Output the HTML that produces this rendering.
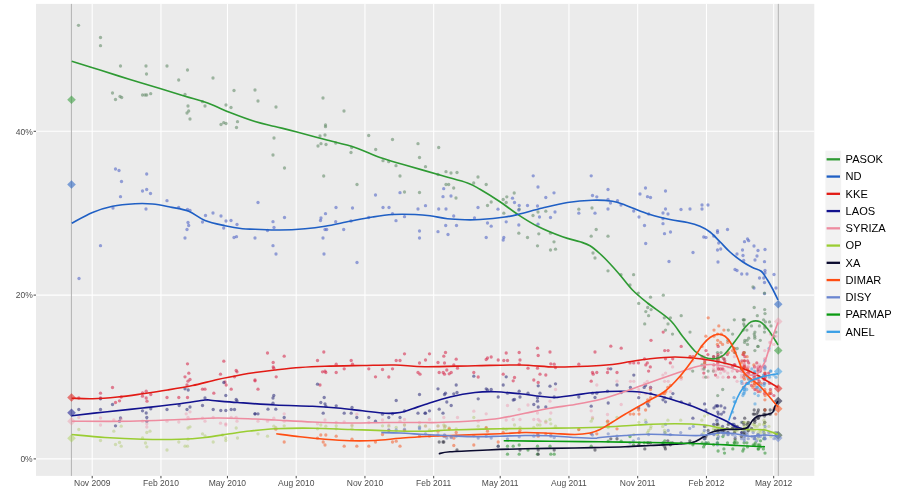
<!DOCTYPE html>
<html><head><meta charset="utf-8"><title>Opinion polling</title>
<style>
html,body{margin:0;padding:0;background:#fff;}
body{width:900px;height:500px;overflow:hidden;font-family:"Liberation Sans",sans-serif;}
svg{display:block;}
svg{will-change:transform;}
.ax{font-family:"Liberation Sans",sans-serif;font-size:8.5px;fill:#4d4d4d;}
.lg{font-family:"Liberation Sans",sans-serif;font-size:11.1px;fill:#000;}
</style></head><body>
<svg width="900" height="500" viewBox="0 0 900 500">
<rect x="0" y="0" width="900" height="500" fill="#ffffff"/>
<rect x="36.0" y="3.9" width="778.3" height="472.0" fill="#ebebeb"/>
<g stroke="#ffffff" stroke-width="1.07">
<line x1="36.0" x2="814.3" y1="458.90" y2="458.90"/>
<line x1="36.0" x2="814.3" y1="295.10" y2="295.10"/>
<line x1="36.0" x2="814.3" y1="131.30" y2="131.30"/>
<line y1="3.9" y2="475.9" x1="92.20" x2="92.20"/>
<line y1="3.9" y2="475.9" x1="160.95" x2="160.95"/>
<line y1="3.9" y2="475.9" x1="227.45" x2="227.45"/>
<line y1="3.9" y2="475.9" x1="296.20" x2="296.20"/>
<line y1="3.9" y2="475.9" x1="364.95" x2="364.95"/>
<line y1="3.9" y2="475.9" x1="433.70" x2="433.70"/>
<line y1="3.9" y2="475.9" x1="500.20" x2="500.20"/>
<line y1="3.9" y2="475.9" x1="568.95" x2="568.95"/>
<line y1="3.9" y2="475.9" x1="637.70" x2="637.70"/>
<line y1="3.9" y2="475.9" x1="706.45" x2="706.45"/>
<line y1="3.9" y2="475.9" x1="773.70" x2="773.70"/>
</g>
<g stroke="#b2b2b2" stroke-width="1">
<line x1="71.4" x2="71.4" y1="3.9" y2="475.9"/>
<line x1="778.3" x2="778.3" y1="3.9" y2="475.9"/>
</g>
<g stroke="#333333" stroke-width="0.9">
<line x1="33.6" x2="36.0" y1="458.90" y2="458.90"/>
<line x1="33.6" x2="36.0" y1="295.10" y2="295.10"/>
<line x1="33.6" x2="36.0" y1="131.30" y2="131.30"/>
<line y1="475.9" y2="478.3" x1="92.20" x2="92.20"/>
<line y1="475.9" y2="478.3" x1="160.95" x2="160.95"/>
<line y1="475.9" y2="478.3" x1="227.45" x2="227.45"/>
<line y1="475.9" y2="478.3" x1="296.20" x2="296.20"/>
<line y1="475.9" y2="478.3" x1="364.95" x2="364.95"/>
<line y1="475.9" y2="478.3" x1="433.70" x2="433.70"/>
<line y1="475.9" y2="478.3" x1="500.20" x2="500.20"/>
<line y1="475.9" y2="478.3" x1="568.95" x2="568.95"/>
<line y1="475.9" y2="478.3" x1="637.70" x2="637.70"/>
<line y1="475.9" y2="478.3" x1="706.45" x2="706.45"/>
<line y1="475.9" y2="478.3" x1="773.70" x2="773.70"/>
</g>
<text class="ax" x="32.7" y="462.0" text-anchor="end">0%</text>
<text class="ax" x="32.7" y="298.1" text-anchor="end">20%</text>
<text class="ax" x="32.7" y="135.0" text-anchor="end">40%</text>
<text class="ax" x="92.20" y="485.6" text-anchor="middle">Nov 2009</text>
<text class="ax" x="160.95" y="485.6" text-anchor="middle">Feb 2010</text>
<text class="ax" x="227.45" y="485.6" text-anchor="middle">May 2010</text>
<text class="ax" x="296.20" y="485.6" text-anchor="middle">Aug 2010</text>
<text class="ax" x="364.95" y="485.6" text-anchor="middle">Nov 2010</text>
<text class="ax" x="433.70" y="485.6" text-anchor="middle">Feb 2011</text>
<text class="ax" x="500.20" y="485.6" text-anchor="middle">May 2011</text>
<text class="ax" x="568.95" y="485.6" text-anchor="middle">Aug 2011</text>
<text class="ax" x="637.70" y="485.6" text-anchor="middle">Nov 2011</text>
<text class="ax" x="706.45" y="485.6" text-anchor="middle">Feb 2012</text>
<text class="ax" x="773.70" y="485.6" text-anchor="middle">May 2012</text>
<g fill-opacity="0.56">
<circle cx="78.5" cy="25.3" r="1.65" fill="#5f8763"/><circle cx="100.5" cy="37.5" r="1.65" fill="#5f8763"/><circle cx="100.5" cy="45.7" r="1.65" fill="#5f8763"/><circle cx="120.5" cy="66.0" r="1.65" fill="#5f8763"/><circle cx="146.0" cy="66.0" r="1.65" fill="#5f8763"/><circle cx="146.5" cy="74.0" r="1.65" fill="#5f8763"/><circle cx="167.0" cy="66.0" r="1.65" fill="#5f8763"/><circle cx="187.5" cy="70.0" r="1.65" fill="#5f8763"/><circle cx="178.7" cy="80.0" r="1.65" fill="#5f8763"/><circle cx="213.0" cy="78.0" r="1.65" fill="#5f8763"/><circle cx="234.0" cy="90.5" r="1.65" fill="#5f8763"/><circle cx="255.0" cy="90.0" r="1.65" fill="#5f8763"/><circle cx="112.5" cy="93.0" r="1.65" fill="#5f8763"/><circle cx="115.5" cy="99.5" r="1.65" fill="#5f8763"/><circle cx="120.0" cy="96.5" r="1.65" fill="#5f8763"/><circle cx="121.7" cy="97.5" r="1.65" fill="#5f8763"/><circle cx="142.5" cy="95.0" r="1.65" fill="#5f8763"/><circle cx="145.0" cy="95.0" r="1.65" fill="#5f8763"/><circle cx="146.7" cy="95.0" r="1.65" fill="#5f8763"/><circle cx="150.7" cy="93.7" r="1.65" fill="#5f8763"/><circle cx="185.0" cy="94.5" r="1.65" fill="#5f8763"/><circle cx="188.0" cy="106.0" r="1.65" fill="#5f8763"/><circle cx="187.0" cy="113.0" r="1.65" fill="#5f8763"/><circle cx="188.7" cy="111.0" r="1.65" fill="#5f8763"/><circle cx="190.0" cy="119.0" r="1.65" fill="#5f8763"/><circle cx="205.0" cy="106.0" r="1.65" fill="#5f8763"/><circle cx="202.5" cy="101.7" r="1.65" fill="#5f8763"/><circle cx="226.0" cy="105.0" r="1.65" fill="#5f8763"/><circle cx="231.0" cy="107.5" r="1.65" fill="#5f8763"/><circle cx="221.0" cy="124.5" r="1.65" fill="#5f8763"/><circle cx="223.7" cy="122.7" r="1.65" fill="#5f8763"/><circle cx="226.0" cy="123.5" r="1.65" fill="#5f8763"/><circle cx="237.5" cy="121.7" r="1.65" fill="#5f8763"/><circle cx="236.5" cy="127.5" r="1.65" fill="#5f8763"/><circle cx="258.0" cy="101.0" r="1.65" fill="#5f8763"/><circle cx="276.0" cy="107.0" r="1.65" fill="#5f8763"/><circle cx="323.0" cy="98.0" r="1.65" fill="#5f8763"/><circle cx="344.0" cy="111.0" r="1.65" fill="#5f8763"/><circle cx="325.5" cy="125.0" r="1.65" fill="#5f8763"/><circle cx="325.5" cy="126.7" r="1.65" fill="#5f8763"/><circle cx="274.0" cy="138.0" r="1.65" fill="#5f8763"/><circle cx="273.0" cy="155.0" r="1.65" fill="#5f8763"/><circle cx="284.5" cy="168.0" r="1.65" fill="#5f8763"/><circle cx="320.0" cy="136.0" r="1.65" fill="#5f8763"/><circle cx="325.0" cy="135.0" r="1.65" fill="#5f8763"/><circle cx="318.0" cy="146.0" r="1.65" fill="#5f8763"/><circle cx="321.0" cy="143.7" r="1.65" fill="#5f8763"/><circle cx="326.0" cy="144.5" r="1.65" fill="#5f8763"/><circle cx="335.7" cy="143.0" r="1.65" fill="#5f8763"/><circle cx="351.7" cy="147.5" r="1.65" fill="#5f8763"/><circle cx="351.0" cy="152.5" r="1.65" fill="#5f8763"/><circle cx="368.7" cy="135.5" r="1.65" fill="#5f8763"/><circle cx="375.7" cy="149.5" r="1.65" fill="#5f8763"/><circle cx="392.5" cy="139.5" r="1.65" fill="#5f8763"/><circle cx="383.0" cy="160.7" r="1.65" fill="#5f8763"/><circle cx="388.7" cy="161.7" r="1.65" fill="#5f8763"/><circle cx="396.0" cy="165.7" r="1.65" fill="#5f8763"/><circle cx="400.0" cy="176.0" r="1.65" fill="#5f8763"/><circle cx="323.7" cy="176.0" r="1.65" fill="#5f8763"/><circle cx="357.0" cy="184.5" r="1.65" fill="#5f8763"/><circle cx="418.0" cy="143.7" r="1.65" fill="#5f8763"/><circle cx="419.5" cy="157.5" r="1.65" fill="#5f8763"/><circle cx="425.5" cy="166.7" r="1.65" fill="#5f8763"/><circle cx="438.7" cy="147.5" r="1.65" fill="#5f8763"/><circle cx="438.0" cy="174.5" r="1.65" fill="#5f8763"/><circle cx="446.0" cy="171.7" r="1.65" fill="#5f8763"/><circle cx="451.0" cy="173.0" r="1.65" fill="#5f8763"/><circle cx="457.0" cy="172.5" r="1.65" fill="#5f8763"/><circle cx="446.0" cy="184.5" r="1.65" fill="#5f8763"/><circle cx="448.7" cy="184.5" r="1.65" fill="#5f8763"/><circle cx="453.7" cy="188.0" r="1.65" fill="#5f8763"/><circle cx="478.0" cy="177.0" r="1.65" fill="#5f8763"/><circle cx="473.7" cy="183.0" r="1.65" fill="#5f8763"/><circle cx="404.5" cy="192.0" r="1.65" fill="#5f8763"/><circle cx="419.5" cy="192.5" r="1.65" fill="#5f8763"/><circle cx="456.0" cy="198.0" r="1.65" fill="#5f8763"/><circle cx="486.2" cy="184.5" r="1.65" fill="#5f8763"/><circle cx="491.2" cy="202.0" r="1.65" fill="#5f8763"/><circle cx="487.5" cy="205.5" r="1.65" fill="#5f8763"/><circle cx="503.2" cy="199.5" r="1.65" fill="#5f8763"/><circle cx="506.8" cy="196.8" r="1.65" fill="#5f8763"/><circle cx="514.2" cy="193.0" r="1.65" fill="#5f8763"/><circle cx="506.2" cy="202.5" r="1.65" fill="#5f8763"/><circle cx="503.8" cy="213.2" r="1.65" fill="#5f8763"/><circle cx="519.2" cy="209.2" r="1.65" fill="#5f8763"/><circle cx="533.0" cy="215.5" r="1.65" fill="#5f8763"/><circle cx="538.0" cy="212.0" r="1.65" fill="#5f8763"/><circle cx="545.8" cy="211.2" r="1.65" fill="#5f8763"/><circle cx="518.8" cy="233.2" r="1.65" fill="#5f8763"/><circle cx="527.5" cy="237.5" r="1.65" fill="#5f8763"/><circle cx="538.8" cy="233.8" r="1.65" fill="#5f8763"/><circle cx="550.5" cy="233.2" r="1.65" fill="#5f8763"/><circle cx="554.0" cy="241.8" r="1.65" fill="#5f8763"/><circle cx="537.5" cy="245.8" r="1.65" fill="#5f8763"/><circle cx="550.5" cy="250.0" r="1.65" fill="#5f8763"/><circle cx="555.5" cy="249.2" r="1.65" fill="#5f8763"/><circle cx="578.8" cy="209.2" r="1.65" fill="#5f8763"/><circle cx="592.0" cy="208.0" r="1.65" fill="#5f8763"/><circle cx="596.2" cy="229.5" r="1.65" fill="#5f8763"/><circle cx="591.2" cy="236.2" r="1.65" fill="#5f8763"/><circle cx="608.0" cy="236.2" r="1.65" fill="#5f8763"/><circle cx="593.0" cy="253.0" r="1.65" fill="#5f8763"/><circle cx="595.0" cy="258.0" r="1.65" fill="#5f8763"/><circle cx="608.0" cy="270.8" r="1.65" fill="#5f8763"/><circle cx="115.5" cy="169.0" r="1.65" fill="#4a5ec4"/><circle cx="119.0" cy="170.5" r="1.65" fill="#4a5ec4"/><circle cx="121.5" cy="181.5" r="1.65" fill="#4a5ec4"/><circle cx="146.7" cy="174.0" r="1.65" fill="#4a5ec4"/><circle cx="142.5" cy="191.0" r="1.65" fill="#4a5ec4"/><circle cx="146.7" cy="189.5" r="1.65" fill="#4a5ec4"/><circle cx="150.5" cy="193.5" r="1.65" fill="#4a5ec4"/><circle cx="120.5" cy="196.7" r="1.65" fill="#4a5ec4"/><circle cx="167.0" cy="200.7" r="1.65" fill="#4a5ec4"/><circle cx="146.0" cy="209.0" r="1.65" fill="#4a5ec4"/><circle cx="113.0" cy="208.0" r="1.65" fill="#4a5ec4"/><circle cx="178.7" cy="207.5" r="1.65" fill="#4a5ec4"/><circle cx="187.5" cy="209.5" r="1.65" fill="#4a5ec4"/><circle cx="190.0" cy="210.5" r="1.65" fill="#4a5ec4"/><circle cx="188.0" cy="222.5" r="1.65" fill="#4a5ec4"/><circle cx="188.7" cy="225.5" r="1.65" fill="#4a5ec4"/><circle cx="187.0" cy="229.5" r="1.65" fill="#4a5ec4"/><circle cx="185.0" cy="238.0" r="1.65" fill="#4a5ec4"/><circle cx="205.5" cy="215.5" r="1.65" fill="#4a5ec4"/><circle cx="202.5" cy="222.0" r="1.65" fill="#4a5ec4"/><circle cx="213.0" cy="213.0" r="1.65" fill="#4a5ec4"/><circle cx="221.0" cy="216.0" r="1.65" fill="#4a5ec4"/><circle cx="226.0" cy="221.0" r="1.65" fill="#4a5ec4"/><circle cx="231.0" cy="220.5" r="1.65" fill="#4a5ec4"/><circle cx="237.0" cy="224.5" r="1.65" fill="#4a5ec4"/><circle cx="223.7" cy="228.0" r="1.65" fill="#4a5ec4"/><circle cx="234.0" cy="237.5" r="1.65" fill="#4a5ec4"/><circle cx="236.5" cy="236.7" r="1.65" fill="#4a5ec4"/><circle cx="255.0" cy="238.0" r="1.65" fill="#4a5ec4"/><circle cx="100.5" cy="245.7" r="1.65" fill="#4a5ec4"/><circle cx="79.0" cy="278.5" r="1.65" fill="#4a5ec4"/><circle cx="258.0" cy="202.5" r="1.65" fill="#4a5ec4"/><circle cx="284.5" cy="217.5" r="1.65" fill="#4a5ec4"/><circle cx="273.0" cy="221.7" r="1.65" fill="#4a5ec4"/><circle cx="274.0" cy="227.5" r="1.65" fill="#4a5ec4"/><circle cx="267.5" cy="230.5" r="1.65" fill="#4a5ec4"/><circle cx="273.0" cy="245.7" r="1.65" fill="#4a5ec4"/><circle cx="276.0" cy="254.0" r="1.65" fill="#4a5ec4"/><circle cx="325.5" cy="213.7" r="1.65" fill="#4a5ec4"/><circle cx="321.0" cy="218.0" r="1.65" fill="#4a5ec4"/><circle cx="320.5" cy="220.5" r="1.65" fill="#4a5ec4"/><circle cx="336.0" cy="207.5" r="1.65" fill="#4a5ec4"/><circle cx="335.7" cy="221.7" r="1.65" fill="#4a5ec4"/><circle cx="325.0" cy="229.5" r="1.65" fill="#4a5ec4"/><circle cx="326.7" cy="229.5" r="1.65" fill="#4a5ec4"/><circle cx="323.0" cy="238.0" r="1.65" fill="#4a5ec4"/><circle cx="343.7" cy="229.5" r="1.65" fill="#4a5ec4"/><circle cx="324.0" cy="254.0" r="1.65" fill="#4a5ec4"/><circle cx="352.5" cy="208.0" r="1.65" fill="#4a5ec4"/><circle cx="351.0" cy="221.0" r="1.65" fill="#4a5ec4"/><circle cx="357.0" cy="262.5" r="1.65" fill="#4a5ec4"/><circle cx="368.7" cy="217.5" r="1.65" fill="#4a5ec4"/><circle cx="375.5" cy="195.0" r="1.65" fill="#4a5ec4"/><circle cx="383.0" cy="207.5" r="1.65" fill="#4a5ec4"/><circle cx="389.0" cy="207.5" r="1.65" fill="#4a5ec4"/><circle cx="392.5" cy="213.7" r="1.65" fill="#4a5ec4"/><circle cx="396.0" cy="220.7" r="1.65" fill="#4a5ec4"/><circle cx="404.5" cy="216.7" r="1.65" fill="#4a5ec4"/><circle cx="400.0" cy="192.7" r="1.65" fill="#4a5ec4"/><circle cx="418.0" cy="209.0" r="1.65" fill="#4a5ec4"/><circle cx="425.5" cy="205.7" r="1.65" fill="#4a5ec4"/><circle cx="419.5" cy="231.0" r="1.65" fill="#4a5ec4"/><circle cx="419.5" cy="238.0" r="1.65" fill="#4a5ec4"/><circle cx="438.7" cy="209.0" r="1.65" fill="#4a5ec4"/><circle cx="446.0" cy="209.0" r="1.65" fill="#4a5ec4"/><circle cx="438.0" cy="231.7" r="1.65" fill="#4a5ec4"/><circle cx="445.7" cy="225.5" r="1.65" fill="#4a5ec4"/><circle cx="448.0" cy="234.5" r="1.65" fill="#4a5ec4"/><circle cx="453.7" cy="216.0" r="1.65" fill="#4a5ec4"/><circle cx="456.5" cy="225.5" r="1.65" fill="#4a5ec4"/><circle cx="478.0" cy="207.5" r="1.65" fill="#4a5ec4"/><circle cx="474.5" cy="218.0" r="1.65" fill="#4a5ec4"/><circle cx="443.7" cy="188.7" r="1.65" fill="#4a5ec4"/><circle cx="443.0" cy="196.7" r="1.65" fill="#4a5ec4"/><circle cx="451.0" cy="196.0" r="1.65" fill="#4a5ec4"/><circle cx="608.0" cy="189.5" r="1.65" fill="#4a5ec4"/><circle cx="608.0" cy="199.5" r="1.65" fill="#4a5ec4"/><circle cx="608.0" cy="209.0" r="1.65" fill="#4a5ec4"/><circle cx="610.5" cy="203.0" r="1.65" fill="#4a5ec4"/><circle cx="617.5" cy="200.7" r="1.65" fill="#4a5ec4"/><circle cx="621.0" cy="205.0" r="1.65" fill="#4a5ec4"/><circle cx="645.5" cy="188.0" r="1.65" fill="#4a5ec4"/><circle cx="640.0" cy="194.0" r="1.65" fill="#4a5ec4"/><circle cx="647.5" cy="196.7" r="1.65" fill="#4a5ec4"/><circle cx="650.5" cy="197.5" r="1.65" fill="#4a5ec4"/><circle cx="665.5" cy="191.0" r="1.65" fill="#4a5ec4"/><circle cx="633.7" cy="211.0" r="1.65" fill="#4a5ec4"/><circle cx="639.0" cy="217.0" r="1.65" fill="#4a5ec4"/><circle cx="648.7" cy="214.0" r="1.65" fill="#4a5ec4"/><circle cx="644.5" cy="225.5" r="1.65" fill="#4a5ec4"/><circle cx="645.7" cy="243.5" r="1.65" fill="#4a5ec4"/><circle cx="665.5" cy="209.0" r="1.65" fill="#4a5ec4"/><circle cx="663.0" cy="213.0" r="1.65" fill="#4a5ec4"/><circle cx="668.0" cy="214.0" r="1.65" fill="#4a5ec4"/><circle cx="663.0" cy="218.7" r="1.65" fill="#4a5ec4"/><circle cx="663.0" cy="223.7" r="1.65" fill="#4a5ec4"/><circle cx="664.5" cy="233.7" r="1.65" fill="#4a5ec4"/><circle cx="670.5" cy="232.0" r="1.65" fill="#4a5ec4"/><circle cx="669.0" cy="261.5" r="1.65" fill="#4a5ec4"/><circle cx="681.0" cy="209.5" r="1.65" fill="#4a5ec4"/><circle cx="690.0" cy="209.0" r="1.65" fill="#4a5ec4"/><circle cx="702.0" cy="205.0" r="1.65" fill="#4a5ec4"/><circle cx="708.0" cy="205.0" r="1.65" fill="#4a5ec4"/><circle cx="702.0" cy="209.0" r="1.65" fill="#4a5ec4"/><circle cx="693.0" cy="252.5" r="1.65" fill="#4a5ec4"/><circle cx="703.7" cy="237.0" r="1.65" fill="#4a5ec4"/><circle cx="706.0" cy="237.5" r="1.65" fill="#4a5ec4"/><circle cx="713.7" cy="236.0" r="1.65" fill="#4a5ec4"/><circle cx="717.5" cy="232.5" r="1.65" fill="#4a5ec4"/><circle cx="717.5" cy="230.7" r="1.65" fill="#4a5ec4"/><circle cx="727.5" cy="229.5" r="1.65" fill="#4a5ec4"/><circle cx="718.7" cy="243.0" r="1.65" fill="#4a5ec4"/><circle cx="717.5" cy="250.0" r="1.65" fill="#4a5ec4"/><circle cx="720.7" cy="249.0" r="1.65" fill="#4a5ec4"/><circle cx="718.0" cy="262.0" r="1.65" fill="#4a5ec4"/><circle cx="744.5" cy="241.7" r="1.65" fill="#4a5ec4"/><circle cx="747.5" cy="239.0" r="1.65" fill="#4a5ec4"/><circle cx="748.7" cy="240.7" r="1.65" fill="#4a5ec4"/><circle cx="754.0" cy="246.0" r="1.65" fill="#4a5ec4"/><circle cx="742.5" cy="250.0" r="1.65" fill="#4a5ec4"/><circle cx="737.0" cy="254.0" r="1.65" fill="#4a5ec4"/><circle cx="743.0" cy="255.5" r="1.65" fill="#4a5ec4"/><circle cx="743.7" cy="260.5" r="1.65" fill="#4a5ec4"/><circle cx="758.0" cy="250.5" r="1.65" fill="#4a5ec4"/><circle cx="765.0" cy="249.5" r="1.65" fill="#4a5ec4"/><circle cx="757.0" cy="256.0" r="1.65" fill="#4a5ec4"/><circle cx="755.0" cy="260.0" r="1.65" fill="#4a5ec4"/><circle cx="764.5" cy="261.7" r="1.65" fill="#4a5ec4"/><circle cx="735.0" cy="269.5" r="1.65" fill="#4a5ec4"/><circle cx="737.0" cy="270.5" r="1.65" fill="#4a5ec4"/><circle cx="741.7" cy="274.0" r="1.65" fill="#4a5ec4"/><circle cx="747.0" cy="274.0" r="1.65" fill="#4a5ec4"/><circle cx="765.0" cy="270.5" r="1.65" fill="#4a5ec4"/><circle cx="765.0" cy="273.0" r="1.65" fill="#4a5ec4"/><circle cx="763.7" cy="278.0" r="1.65" fill="#4a5ec4"/><circle cx="759.5" cy="278.0" r="1.65" fill="#4a5ec4"/><circle cx="764.5" cy="282.5" r="1.65" fill="#4a5ec4"/><circle cx="774.0" cy="274.5" r="1.65" fill="#4a5ec4"/><circle cx="754.0" cy="288.0" r="1.65" fill="#4a5ec4"/><circle cx="776.0" cy="288.0" r="1.65" fill="#4a5ec4"/><circle cx="764.5" cy="293.7" r="1.65" fill="#4a5ec4"/><circle cx="533.2" cy="175.8" r="1.65" fill="#4a5ec4"/><circle cx="538.0" cy="187.0" r="1.65" fill="#4a5ec4"/><circle cx="554.0" cy="192.8" r="1.65" fill="#4a5ec4"/><circle cx="545.8" cy="197.5" r="1.65" fill="#4a5ec4"/><circle cx="512.5" cy="198.2" r="1.65" fill="#4a5ec4"/><circle cx="514.5" cy="202.5" r="1.65" fill="#4a5ec4"/><circle cx="519.2" cy="205.5" r="1.65" fill="#4a5ec4"/><circle cx="527.5" cy="205.5" r="1.65" fill="#4a5ec4"/><circle cx="537.5" cy="206.0" r="1.65" fill="#4a5ec4"/><circle cx="498.0" cy="209.2" r="1.65" fill="#4a5ec4"/><circle cx="518.8" cy="210.0" r="1.65" fill="#4a5ec4"/><circle cx="555.0" cy="212.0" r="1.65" fill="#4a5ec4"/><circle cx="539.5" cy="217.0" r="1.65" fill="#4a5ec4"/><circle cx="550.5" cy="217.5" r="1.65" fill="#4a5ec4"/><circle cx="506.2" cy="221.8" r="1.65" fill="#4a5ec4"/><circle cx="487.5" cy="223.0" r="1.65" fill="#4a5ec4"/><circle cx="491.2" cy="226.2" r="1.65" fill="#4a5ec4"/><circle cx="518.8" cy="225.0" r="1.65" fill="#4a5ec4"/><circle cx="538.0" cy="224.2" r="1.65" fill="#4a5ec4"/><circle cx="486.2" cy="237.5" r="1.65" fill="#4a5ec4"/><circle cx="503.8" cy="237.5" r="1.65" fill="#4a5ec4"/><circle cx="503.2" cy="240.0" r="1.65" fill="#4a5ec4"/><circle cx="591.2" cy="175.8" r="1.65" fill="#4a5ec4"/><circle cx="592.5" cy="195.5" r="1.65" fill="#4a5ec4"/><circle cx="596.8" cy="196.8" r="1.65" fill="#4a5ec4"/><circle cx="595.0" cy="213.2" r="1.65" fill="#4a5ec4"/><circle cx="578.8" cy="213.2" r="1.65" fill="#4a5ec4"/><circle cx="621.0" cy="274.7" r="1.65" fill="#5f8763"/><circle cx="630.0" cy="285.0" r="1.65" fill="#5f8763"/><circle cx="630.0" cy="362.9" r="1.65" fill="#d62448"/><circle cx="630.4" cy="387.4" r="1.65" fill="#2c2c7a"/><circle cx="630.4" cy="381.3" r="1.65" fill="#ee8ca4" fill-opacity="0.4"/><circle cx="630.2" cy="414.1" r="1.65" fill="#f4602e"/><circle cx="630.0" cy="442.8" r="1.65" fill="#6e84c4"/><circle cx="630.0" cy="436.6" r="1.65" fill="#2a9030"/><circle cx="633.6" cy="274.7" r="1.65" fill="#5f8763"/><circle cx="633.7" cy="362.9" r="1.65" fill="#d62448"/><circle cx="633.8" cy="375.1" r="1.65" fill="#2c2c7a"/><circle cx="633.8" cy="381.3" r="1.65" fill="#ee8ca4" fill-opacity="0.4"/><circle cx="633.9" cy="434.6" r="1.65" fill="#a4c45a" fill-opacity="0.4"/><circle cx="633.6" cy="414.1" r="1.65" fill="#f4602e"/><circle cx="633.4" cy="440.8" r="1.65" fill="#6e84c4"/><circle cx="633.5" cy="444.8" r="1.65" fill="#2a9030"/><circle cx="638.3" cy="293.1" r="1.65" fill="#5f8763"/><circle cx="638.4" cy="362.9" r="1.65" fill="#d62448"/><circle cx="638.7" cy="407.9" r="1.65" fill="#2c2c7a"/><circle cx="638.5" cy="389.5" r="1.65" fill="#ee8ca4" fill-opacity="0.4"/><circle cx="638.8" cy="422.3" r="1.65" fill="#a4c45a" fill-opacity="0.4"/><circle cx="638.6" cy="410.0" r="1.65" fill="#f4602e"/><circle cx="638.5" cy="438.7" r="1.65" fill="#6e84c4"/><circle cx="638.7" cy="303.4" r="1.65" fill="#5f8763"/><circle cx="638.7" cy="397.7" r="1.65" fill="#2c2c7a"/><circle cx="639.3" cy="393.6" r="1.65" fill="#ee8ca4" fill-opacity="0.4"/><circle cx="638.8" cy="444.8" r="1.65" fill="#30303e"/><circle cx="639.0" cy="414.1" r="1.65" fill="#f4602e"/><circle cx="639.3" cy="442.8" r="1.65" fill="#2a9030"/><circle cx="644.7" cy="323.9" r="1.65" fill="#5f8763"/><circle cx="644.5" cy="358.8" r="1.65" fill="#d62448"/><circle cx="644.2" cy="387.4" r="1.65" fill="#2c2c7a"/><circle cx="644.6" cy="383.4" r="1.65" fill="#ee8ca4" fill-opacity="0.4"/><circle cx="644.8" cy="448.9" r="1.65" fill="#30303e"/><circle cx="644.3" cy="442.8" r="1.65" fill="#2a9030"/><circle cx="645.8" cy="311.6" r="1.65" fill="#5f8763"/><circle cx="645.8" cy="364.9" r="1.65" fill="#d62448"/><circle cx="645.5" cy="385.4" r="1.65" fill="#2c2c7a"/><circle cx="645.9" cy="393.6" r="1.65" fill="#ee8ca4" fill-opacity="0.4"/><circle cx="645.5" cy="420.2" r="1.65" fill="#a4c45a" fill-opacity="0.4"/><circle cx="645.6" cy="410.0" r="1.65" fill="#f4602e"/><circle cx="646.0" cy="422.3" r="1.65" fill="#6e84c4"/><circle cx="647.7" cy="307.5" r="1.65" fill="#5f8763"/><circle cx="647.3" cy="362.9" r="1.65" fill="#d62448"/><circle cx="647.4" cy="403.9" r="1.65" fill="#2c2c7a"/><circle cx="647.3" cy="381.3" r="1.65" fill="#ee8ca4" fill-opacity="0.4"/><circle cx="647.5" cy="432.6" r="1.65" fill="#a4c45a" fill-opacity="0.4"/><circle cx="647.7" cy="399.8" r="1.65" fill="#f4602e"/><circle cx="647.3" cy="442.8" r="1.65" fill="#2a9030"/><circle cx="648.6" cy="315.7" r="1.65" fill="#5f8763"/><circle cx="648.6" cy="371.1" r="1.65" fill="#d62448"/><circle cx="648.8" cy="405.9" r="1.65" fill="#2c2c7a"/><circle cx="648.7" cy="430.5" r="1.65" fill="#a4c45a" fill-opacity="0.4"/><circle cx="648.4" cy="442.8" r="1.65" fill="#30303e"/><circle cx="648.9" cy="401.8" r="1.65" fill="#f4602e"/><circle cx="648.7" cy="434.6" r="1.65" fill="#6e84c4"/><circle cx="650.5" cy="297.2" r="1.65" fill="#5f8763"/><circle cx="650.3" cy="366.9" r="1.65" fill="#d62448"/><circle cx="650.7" cy="393.6" r="1.65" fill="#2c2c7a"/><circle cx="650.5" cy="387.4" r="1.65" fill="#ee8ca4" fill-opacity="0.4"/><circle cx="650.6" cy="428.4" r="1.65" fill="#a4c45a" fill-opacity="0.4"/><circle cx="650.5" cy="442.8" r="1.65" fill="#30303e"/><circle cx="650.5" cy="389.5" r="1.65" fill="#f4602e"/><circle cx="651.1" cy="309.6" r="1.65" fill="#5f8763"/><circle cx="651.0" cy="340.3" r="1.65" fill="#d62448"/><circle cx="650.6" cy="387.4" r="1.65" fill="#2c2c7a"/><circle cx="650.6" cy="387.4" r="1.65" fill="#ee8ca4" fill-opacity="0.4"/><circle cx="651.0" cy="426.4" r="1.65" fill="#a4c45a" fill-opacity="0.4"/><circle cx="650.6" cy="397.7" r="1.65" fill="#f4602e"/><circle cx="663.3" cy="295.2" r="1.65" fill="#5f8763"/><circle cx="663.2" cy="332.1" r="1.65" fill="#d62448"/><circle cx="663.0" cy="399.8" r="1.65" fill="#2c2c7a"/><circle cx="662.9" cy="375.1" r="1.65" fill="#ee8ca4" fill-opacity="0.4"/><circle cx="662.7" cy="426.4" r="1.65" fill="#a4c45a" fill-opacity="0.4"/><circle cx="662.9" cy="444.8" r="1.65" fill="#30303e"/><circle cx="663.0" cy="393.6" r="1.65" fill="#f4602e"/><circle cx="663.3" cy="442.8" r="1.65" fill="#6e84c4"/><circle cx="662.9" cy="442.8" r="1.65" fill="#2a9030"/><circle cx="664.3" cy="317.8" r="1.65" fill="#5f8763"/><circle cx="664.7" cy="350.6" r="1.65" fill="#d62448"/><circle cx="664.8" cy="397.7" r="1.65" fill="#2c2c7a"/><circle cx="664.6" cy="381.3" r="1.65" fill="#ee8ca4" fill-opacity="0.4"/><circle cx="664.5" cy="430.5" r="1.65" fill="#a4c45a" fill-opacity="0.4"/><circle cx="664.8" cy="446.9" r="1.65" fill="#30303e"/><circle cx="664.7" cy="393.6" r="1.65" fill="#f4602e"/><circle cx="664.7" cy="432.6" r="1.65" fill="#6e84c4"/><circle cx="664.8" cy="440.8" r="1.65" fill="#2a9030"/><circle cx="665.5" cy="330.1" r="1.65" fill="#5f8763"/><circle cx="665.5" cy="358.8" r="1.65" fill="#d62448"/><circle cx="665.5" cy="401.8" r="1.65" fill="#2c2c7a"/><circle cx="665.6" cy="373.1" r="1.65" fill="#ee8ca4" fill-opacity="0.4"/><circle cx="665.5" cy="432.6" r="1.65" fill="#a4c45a" fill-opacity="0.4"/><circle cx="665.4" cy="448.9" r="1.65" fill="#30303e"/><circle cx="665.8" cy="391.6" r="1.65" fill="#f4602e"/><circle cx="665.5" cy="424.4" r="1.65" fill="#6e84c4"/><circle cx="668.0" cy="323.9" r="1.65" fill="#5f8763"/><circle cx="668.1" cy="350.6" r="1.65" fill="#d62448"/><circle cx="668.2" cy="381.3" r="1.65" fill="#ee8ca4" fill-opacity="0.4"/><circle cx="667.9" cy="420.2" r="1.65" fill="#a4c45a" fill-opacity="0.4"/><circle cx="667.8" cy="440.8" r="1.65" fill="#30303e"/><circle cx="667.8" cy="387.4" r="1.65" fill="#f4602e"/><circle cx="668.2" cy="430.5" r="1.65" fill="#6e84c4"/><circle cx="670.4" cy="317.8" r="1.65" fill="#5f8763"/><circle cx="670.3" cy="362.9" r="1.65" fill="#d62448"/><circle cx="670.8" cy="397.7" r="1.65" fill="#2c2c7a"/><circle cx="670.3" cy="391.6" r="1.65" fill="#ee8ca4" fill-opacity="0.4"/><circle cx="670.4" cy="444.8" r="1.65" fill="#30303e"/><circle cx="670.5" cy="385.4" r="1.65" fill="#f4602e"/><circle cx="670.4" cy="434.6" r="1.65" fill="#6e84c4"/><circle cx="670.4" cy="442.8" r="1.65" fill="#2a9030"/><circle cx="672.5" cy="334.1" r="1.65" fill="#5f8763"/><circle cx="672.7" cy="358.8" r="1.65" fill="#d62448"/><circle cx="672.9" cy="393.6" r="1.65" fill="#2c2c7a"/><circle cx="672.6" cy="366.9" r="1.65" fill="#ee8ca4" fill-opacity="0.4"/><circle cx="672.4" cy="442.8" r="1.65" fill="#30303e"/><circle cx="681.2" cy="315.7" r="1.65" fill="#5f8763"/><circle cx="681.2" cy="346.4" r="1.65" fill="#d62448"/><circle cx="681.2" cy="401.8" r="1.65" fill="#2c2c7a"/><circle cx="681.1" cy="379.2" r="1.65" fill="#ee8ca4" fill-opacity="0.4"/><circle cx="680.7" cy="420.2" r="1.65" fill="#a4c45a" fill-opacity="0.4"/><circle cx="681.2" cy="442.8" r="1.65" fill="#30303e"/><circle cx="681.1" cy="377.2" r="1.65" fill="#f4602e"/><circle cx="680.7" cy="432.6" r="1.65" fill="#6e84c4"/><circle cx="690.0" cy="332.1" r="1.65" fill="#5f8763"/><circle cx="690.1" cy="356.7" r="1.65" fill="#d62448"/><circle cx="689.7" cy="403.9" r="1.65" fill="#2c2c7a"/><circle cx="690.1" cy="369.0" r="1.65" fill="#ee8ca4" fill-opacity="0.4"/><circle cx="689.9" cy="440.8" r="1.65" fill="#30303e"/><circle cx="690.1" cy="356.7" r="1.65" fill="#f4602e"/><circle cx="689.7" cy="428.4" r="1.65" fill="#6e84c4"/><circle cx="689.9" cy="442.8" r="1.65" fill="#2a9030"/><circle cx="692.7" cy="371.1" r="1.65" fill="#5f8763"/><circle cx="693.1" cy="356.7" r="1.65" fill="#d62448"/><circle cx="692.9" cy="418.2" r="1.65" fill="#2c2c7a"/><circle cx="692.8" cy="360.8" r="1.65" fill="#ee8ca4" fill-opacity="0.4"/><circle cx="693.3" cy="442.8" r="1.65" fill="#30303e"/><circle cx="693.3" cy="426.4" r="1.65" fill="#6e84c4"/><circle cx="692.9" cy="444.8" r="1.65" fill="#2a9030"/><circle cx="702.0" cy="364.9" r="1.65" fill="#5f8763"/><circle cx="702.0" cy="356.7" r="1.65" fill="#d62448"/><circle cx="702.2" cy="369.0" r="1.65" fill="#ee8ca4" fill-opacity="0.4"/><circle cx="701.8" cy="420.2" r="1.65" fill="#a4c45a" fill-opacity="0.4"/><circle cx="702.0" cy="346.4" r="1.65" fill="#f4602e"/><circle cx="701.9" cy="434.6" r="1.65" fill="#6e84c4"/><circle cx="702.2" cy="442.8" r="1.65" fill="#2a9030"/><circle cx="703.9" cy="369.0" r="1.65" fill="#5f8763"/><circle cx="703.8" cy="373.1" r="1.65" fill="#d62448"/><circle cx="703.6" cy="377.2" r="1.65" fill="#ee8ca4" fill-opacity="0.4"/><circle cx="703.6" cy="432.6" r="1.65" fill="#a4c45a" fill-opacity="0.4"/><circle cx="703.6" cy="436.6" r="1.65" fill="#30303e"/><circle cx="703.6" cy="358.8" r="1.65" fill="#f4602e"/><circle cx="703.6" cy="446.9" r="1.65" fill="#2a9030"/><circle cx="704.8" cy="362.9" r="1.65" fill="#5f8763"/><circle cx="704.7" cy="366.9" r="1.65" fill="#d62448"/><circle cx="704.6" cy="426.4" r="1.65" fill="#2c2c7a"/><circle cx="704.3" cy="356.7" r="1.65" fill="#ee8ca4" fill-opacity="0.4"/><circle cx="704.6" cy="416.1" r="1.65" fill="#a4c45a" fill-opacity="0.4"/><circle cx="704.3" cy="438.7" r="1.65" fill="#30303e"/><circle cx="704.4" cy="430.5" r="1.65" fill="#6e84c4"/><circle cx="704.9" cy="360.8" r="1.65" fill="#d62448"/><circle cx="704.6" cy="403.9" r="1.65" fill="#2c2c7a"/><circle cx="704.6" cy="362.9" r="1.65" fill="#ee8ca4" fill-opacity="0.4"/><circle cx="705.1" cy="438.7" r="1.65" fill="#30303e"/><circle cx="704.6" cy="362.9" r="1.65" fill="#f4602e"/><circle cx="704.5" cy="438.7" r="1.65" fill="#6e84c4"/><circle cx="704.6" cy="444.8" r="1.65" fill="#2a9030"/><circle cx="705.9" cy="377.2" r="1.65" fill="#5f8763"/><circle cx="706.0" cy="350.6" r="1.65" fill="#d62448"/><circle cx="705.9" cy="410.0" r="1.65" fill="#2c2c7a"/><circle cx="706.0" cy="426.4" r="1.65" fill="#a4c45a" fill-opacity="0.4"/><circle cx="705.9" cy="436.6" r="1.65" fill="#30303e"/><circle cx="705.9" cy="336.2" r="1.65" fill="#f4602e"/><circle cx="706.2" cy="442.8" r="1.65" fill="#6e84c4"/><circle cx="705.7" cy="442.8" r="1.65" fill="#2a9030"/><circle cx="708.1" cy="371.1" r="1.65" fill="#5f8763"/><circle cx="707.9" cy="354.6" r="1.65" fill="#d62448"/><circle cx="707.8" cy="377.2" r="1.65" fill="#ee8ca4" fill-opacity="0.4"/><circle cx="707.8" cy="414.1" r="1.65" fill="#a4c45a" fill-opacity="0.4"/><circle cx="708.1" cy="430.5" r="1.65" fill="#30303e"/><circle cx="708.2" cy="317.8" r="1.65" fill="#f4602e"/><circle cx="708.2" cy="432.6" r="1.65" fill="#6e84c4"/><circle cx="708.3" cy="442.8" r="1.65" fill="#2a9030"/><circle cx="713.6" cy="356.7" r="1.65" fill="#5f8763"/><circle cx="713.8" cy="364.9" r="1.65" fill="#d62448"/><circle cx="713.7" cy="424.4" r="1.65" fill="#2c2c7a"/><circle cx="713.5" cy="369.0" r="1.65" fill="#ee8ca4" fill-opacity="0.4"/><circle cx="713.7" cy="430.5" r="1.65" fill="#a4c45a" fill-opacity="0.4"/><circle cx="713.9" cy="336.2" r="1.65" fill="#f4602e"/><circle cx="714.0" cy="434.6" r="1.65" fill="#6e84c4"/><circle cx="713.4" cy="371.1" r="1.65" fill="#5f8763"/><circle cx="713.6" cy="356.7" r="1.65" fill="#d62448"/><circle cx="714.0" cy="407.9" r="1.65" fill="#2c2c7a"/><circle cx="713.7" cy="371.1" r="1.65" fill="#ee8ca4" fill-opacity="0.4"/><circle cx="713.6" cy="428.4" r="1.65" fill="#a4c45a" fill-opacity="0.4"/><circle cx="714.0" cy="330.1" r="1.65" fill="#f4602e"/><circle cx="713.9" cy="434.6" r="1.65" fill="#6e84c4"/><circle cx="713.6" cy="444.8" r="1.65" fill="#2a9030"/><circle cx="715.5" cy="375.1" r="1.65" fill="#d62448"/><circle cx="715.9" cy="405.9" r="1.65" fill="#2c2c7a"/><circle cx="715.6" cy="371.1" r="1.65" fill="#ee8ca4" fill-opacity="0.4"/><circle cx="715.4" cy="430.5" r="1.65" fill="#a4c45a" fill-opacity="0.4"/><circle cx="715.6" cy="430.5" r="1.65" fill="#30303e"/><circle cx="717.4" cy="358.8" r="1.65" fill="#d62448"/><circle cx="716.9" cy="420.2" r="1.65" fill="#2c2c7a"/><circle cx="717.0" cy="360.8" r="1.65" fill="#ee8ca4" fill-opacity="0.4"/><circle cx="716.8" cy="430.5" r="1.65" fill="#a4c45a" fill-opacity="0.4"/><circle cx="716.9" cy="424.4" r="1.65" fill="#30303e"/><circle cx="717.1" cy="442.8" r="1.65" fill="#6e84c4"/><circle cx="717.5" cy="352.6" r="1.65" fill="#5f8763"/><circle cx="717.8" cy="362.9" r="1.65" fill="#d62448"/><circle cx="717.2" cy="405.9" r="1.65" fill="#2c2c7a"/><circle cx="717.7" cy="377.2" r="1.65" fill="#ee8ca4" fill-opacity="0.4"/><circle cx="717.2" cy="428.4" r="1.65" fill="#a4c45a" fill-opacity="0.4"/><circle cx="717.6" cy="334.1" r="1.65" fill="#f4602e"/><circle cx="717.6" cy="442.8" r="1.65" fill="#2a9030"/><circle cx="717.7" cy="395.6" r="1.65" fill="#5f8763"/><circle cx="717.7" cy="360.8" r="1.65" fill="#d62448"/><circle cx="717.8" cy="366.9" r="1.65" fill="#ee8ca4" fill-opacity="0.4"/><circle cx="717.8" cy="428.4" r="1.65" fill="#a4c45a" fill-opacity="0.4"/><circle cx="717.4" cy="344.4" r="1.65" fill="#f4602e"/><circle cx="717.3" cy="422.3" r="1.65" fill="#6e84c4"/><circle cx="717.8" cy="358.8" r="1.65" fill="#5f8763"/><circle cx="717.5" cy="356.7" r="1.65" fill="#d62448"/><circle cx="717.8" cy="412.1" r="1.65" fill="#2c2c7a"/><circle cx="717.5" cy="369.0" r="1.65" fill="#ee8ca4" fill-opacity="0.4"/><circle cx="717.3" cy="434.6" r="1.65" fill="#a4c45a" fill-opacity="0.4"/><circle cx="717.8" cy="424.4" r="1.65" fill="#30303e"/><circle cx="717.4" cy="444.8" r="1.65" fill="#6e84c4"/><circle cx="717.6" cy="438.7" r="1.65" fill="#2a9030"/><circle cx="717.8" cy="358.8" r="1.65" fill="#5f8763"/><circle cx="718.0" cy="354.6" r="1.65" fill="#d62448"/><circle cx="717.6" cy="405.9" r="1.65" fill="#2c2c7a"/><circle cx="717.7" cy="362.9" r="1.65" fill="#ee8ca4" fill-opacity="0.4"/><circle cx="717.6" cy="434.6" r="1.65" fill="#a4c45a" fill-opacity="0.4"/><circle cx="718.1" cy="430.5" r="1.65" fill="#30303e"/><circle cx="717.7" cy="340.3" r="1.65" fill="#f4602e"/><circle cx="717.7" cy="438.7" r="1.65" fill="#6e84c4"/><circle cx="718.3" cy="356.7" r="1.65" fill="#5f8763"/><circle cx="718.2" cy="346.4" r="1.65" fill="#d62448"/><circle cx="717.9" cy="366.9" r="1.65" fill="#ee8ca4" fill-opacity="0.4"/><circle cx="718.1" cy="432.6" r="1.65" fill="#a4c45a" fill-opacity="0.4"/><circle cx="718.2" cy="358.8" r="1.65" fill="#f4602e"/><circle cx="718.3" cy="432.6" r="1.65" fill="#6e84c4"/><circle cx="718.1" cy="451.0" r="1.65" fill="#2a9030"/><circle cx="718.5" cy="360.8" r="1.65" fill="#5f8763"/><circle cx="718.6" cy="369.0" r="1.65" fill="#d62448"/><circle cx="718.4" cy="414.1" r="1.65" fill="#2c2c7a"/><circle cx="718.8" cy="360.8" r="1.65" fill="#ee8ca4" fill-opacity="0.4"/><circle cx="718.9" cy="426.4" r="1.65" fill="#a4c45a" fill-opacity="0.4"/><circle cx="718.4" cy="432.6" r="1.65" fill="#30303e"/><circle cx="718.8" cy="325.9" r="1.65" fill="#f4602e"/><circle cx="718.5" cy="436.6" r="1.65" fill="#6e84c4"/><circle cx="721.0" cy="352.6" r="1.65" fill="#5f8763"/><circle cx="720.7" cy="369.0" r="1.65" fill="#d62448"/><circle cx="721.0" cy="405.9" r="1.65" fill="#2c2c7a"/><circle cx="720.5" cy="373.1" r="1.65" fill="#ee8ca4" fill-opacity="0.4"/><circle cx="720.9" cy="428.4" r="1.65" fill="#a4c45a" fill-opacity="0.4"/><circle cx="720.9" cy="430.5" r="1.65" fill="#30303e"/><circle cx="720.5" cy="342.4" r="1.65" fill="#f4602e"/><circle cx="720.7" cy="430.5" r="1.65" fill="#6e84c4"/><circle cx="721.6" cy="356.7" r="1.65" fill="#d62448"/><circle cx="721.4" cy="414.1" r="1.65" fill="#2c2c7a"/><circle cx="721.6" cy="369.0" r="1.65" fill="#ee8ca4" fill-opacity="0.4"/><circle cx="721.3" cy="334.1" r="1.65" fill="#f4602e"/><circle cx="722.7" cy="389.5" r="1.65" fill="#5f8763"/><circle cx="722.9" cy="369.0" r="1.65" fill="#d62448"/><circle cx="722.6" cy="426.4" r="1.65" fill="#2c2c7a"/><circle cx="723.0" cy="377.2" r="1.65" fill="#ee8ca4" fill-opacity="0.4"/><circle cx="722.8" cy="430.5" r="1.65" fill="#30303e"/><circle cx="722.6" cy="344.4" r="1.65" fill="#f4602e"/><circle cx="722.5" cy="432.6" r="1.65" fill="#6e84c4"/><circle cx="722.9" cy="436.6" r="1.65" fill="#2a9030"/><circle cx="723.9" cy="358.8" r="1.65" fill="#5f8763"/><circle cx="724.0" cy="358.8" r="1.65" fill="#d62448"/><circle cx="723.8" cy="412.1" r="1.65" fill="#2c2c7a"/><circle cx="723.8" cy="371.1" r="1.65" fill="#ee8ca4" fill-opacity="0.4"/><circle cx="723.9" cy="434.6" r="1.65" fill="#a4c45a" fill-opacity="0.4"/><circle cx="724.0" cy="430.5" r="1.65" fill="#30303e"/><circle cx="723.9" cy="330.1" r="1.65" fill="#f4602e"/><circle cx="723.7" cy="434.6" r="1.65" fill="#6e84c4"/><circle cx="723.9" cy="448.9" r="1.65" fill="#2a9030"/><circle cx="724.8" cy="362.9" r="1.65" fill="#5f8763"/><circle cx="724.8" cy="360.8" r="1.65" fill="#d62448"/><circle cx="724.8" cy="407.9" r="1.65" fill="#2c2c7a"/><circle cx="725.0" cy="371.1" r="1.65" fill="#ee8ca4" fill-opacity="0.4"/><circle cx="725.0" cy="432.6" r="1.65" fill="#6e84c4"/><circle cx="724.5" cy="453.1" r="1.65" fill="#2a9030"/><circle cx="727.8" cy="340.3" r="1.65" fill="#5f8763"/><circle cx="727.3" cy="354.6" r="1.65" fill="#d62448"/><circle cx="727.4" cy="432.6" r="1.65" fill="#2c2c7a"/><circle cx="727.8" cy="373.1" r="1.65" fill="#ee8ca4" fill-opacity="0.4"/><circle cx="727.4" cy="432.6" r="1.65" fill="#a4c45a" fill-opacity="0.4"/><circle cx="727.3" cy="428.4" r="1.65" fill="#30303e"/><circle cx="727.8" cy="342.4" r="1.65" fill="#f4602e"/><circle cx="727.7" cy="434.6" r="1.65" fill="#6e84c4"/><circle cx="727.5" cy="442.8" r="1.65" fill="#2a9030"/><circle cx="728.3" cy="330.1" r="1.65" fill="#5f8763"/><circle cx="728.5" cy="377.2" r="1.65" fill="#d62448"/><circle cx="728.2" cy="432.6" r="1.65" fill="#2c2c7a"/><circle cx="728.2" cy="366.9" r="1.65" fill="#ee8ca4" fill-opacity="0.4"/><circle cx="728.3" cy="424.4" r="1.65" fill="#30303e"/><circle cx="728.4" cy="352.6" r="1.65" fill="#f4602e"/><circle cx="728.4" cy="434.6" r="1.65" fill="#6e84c4"/><circle cx="732.6" cy="334.1" r="1.65" fill="#5f8763"/><circle cx="732.3" cy="366.9" r="1.65" fill="#d62448"/><circle cx="732.5" cy="424.4" r="1.65" fill="#2c2c7a"/><circle cx="732.3" cy="371.1" r="1.65" fill="#ee8ca4" fill-opacity="0.4"/><circle cx="732.2" cy="426.4" r="1.65" fill="#a4c45a" fill-opacity="0.4"/><circle cx="732.4" cy="428.4" r="1.65" fill="#30303e"/><circle cx="732.5" cy="350.6" r="1.65" fill="#f4602e"/><circle cx="732.5" cy="434.6" r="1.65" fill="#6e84c4"/><circle cx="732.8" cy="448.9" r="1.65" fill="#2a9030"/><circle cx="732.6" cy="412.1" r="1.65" fill="#4a9fe0"/><circle cx="734.3" cy="348.5" r="1.65" fill="#5f8763"/><circle cx="734.2" cy="364.9" r="1.65" fill="#d62448"/><circle cx="734.0" cy="426.4" r="1.65" fill="#2c2c7a"/><circle cx="734.2" cy="352.6" r="1.65" fill="#ee8ca4" fill-opacity="0.4"/><circle cx="734.3" cy="432.6" r="1.65" fill="#a4c45a" fill-opacity="0.4"/><circle cx="733.9" cy="424.4" r="1.65" fill="#30303e"/><circle cx="734.3" cy="348.5" r="1.65" fill="#f4602e"/><circle cx="733.9" cy="424.4" r="1.65" fill="#6e84c4"/><circle cx="734.2" cy="442.8" r="1.65" fill="#2a9030"/><circle cx="733.9" cy="397.7" r="1.65" fill="#4a9fe0"/><circle cx="734.3" cy="319.8" r="1.65" fill="#5f8763"/><circle cx="734.6" cy="377.2" r="1.65" fill="#d62448"/><circle cx="734.6" cy="418.2" r="1.65" fill="#2c2c7a"/><circle cx="734.4" cy="356.7" r="1.65" fill="#ee8ca4" fill-opacity="0.4"/><circle cx="734.2" cy="430.5" r="1.65" fill="#a4c45a" fill-opacity="0.4"/><circle cx="734.6" cy="432.6" r="1.65" fill="#30303e"/><circle cx="734.6" cy="352.6" r="1.65" fill="#f4602e"/><circle cx="734.6" cy="442.8" r="1.65" fill="#2a9030"/><circle cx="734.3" cy="401.8" r="1.65" fill="#4a9fe0"/><circle cx="735.2" cy="352.6" r="1.65" fill="#5f8763"/><circle cx="734.9" cy="364.9" r="1.65" fill="#d62448"/><circle cx="735.1" cy="426.4" r="1.65" fill="#2c2c7a"/><circle cx="735.2" cy="350.6" r="1.65" fill="#ee8ca4" fill-opacity="0.4"/><circle cx="735.1" cy="430.5" r="1.65" fill="#a4c45a" fill-opacity="0.4"/><circle cx="735.1" cy="438.7" r="1.65" fill="#30303e"/><circle cx="735.2" cy="436.6" r="1.65" fill="#6e84c4"/><circle cx="735.1" cy="440.8" r="1.65" fill="#2a9030"/><circle cx="735.1" cy="401.8" r="1.65" fill="#4a9fe0"/><circle cx="737.2" cy="348.5" r="1.65" fill="#5f8763"/><circle cx="737.3" cy="371.1" r="1.65" fill="#d62448"/><circle cx="736.8" cy="428.4" r="1.65" fill="#2c2c7a"/><circle cx="737.1" cy="381.3" r="1.65" fill="#ee8ca4" fill-opacity="0.4"/><circle cx="737.1" cy="430.5" r="1.65" fill="#a4c45a" fill-opacity="0.4"/><circle cx="737.2" cy="426.4" r="1.65" fill="#30303e"/><circle cx="737.2" cy="442.8" r="1.65" fill="#2a9030"/><circle cx="741.3" cy="369.0" r="1.65" fill="#d62448"/><circle cx="741.8" cy="432.6" r="1.65" fill="#2c2c7a"/><circle cx="741.5" cy="377.2" r="1.65" fill="#ee8ca4" fill-opacity="0.4"/><circle cx="741.4" cy="422.3" r="1.65" fill="#a4c45a" fill-opacity="0.4"/><circle cx="741.3" cy="362.9" r="1.65" fill="#f4602e"/><circle cx="741.5" cy="438.7" r="1.65" fill="#6e84c4"/><circle cx="741.6" cy="381.3" r="1.65" fill="#4a9fe0"/><circle cx="741.8" cy="369.0" r="1.65" fill="#5f8763"/><circle cx="741.9" cy="360.8" r="1.65" fill="#d62448"/><circle cx="741.8" cy="432.6" r="1.65" fill="#2c2c7a"/><circle cx="741.5" cy="375.1" r="1.65" fill="#ee8ca4" fill-opacity="0.4"/><circle cx="741.4" cy="436.6" r="1.65" fill="#30303e"/><circle cx="741.4" cy="369.0" r="1.65" fill="#f4602e"/><circle cx="741.7" cy="422.3" r="1.65" fill="#6e84c4"/><circle cx="741.9" cy="383.4" r="1.65" fill="#4a9fe0"/><circle cx="743.3" cy="330.1" r="1.65" fill="#5f8763"/><circle cx="743.0" cy="371.1" r="1.65" fill="#d62448"/><circle cx="743.1" cy="383.4" r="1.65" fill="#ee8ca4" fill-opacity="0.4"/><circle cx="743.2" cy="430.5" r="1.65" fill="#a4c45a" fill-opacity="0.4"/><circle cx="742.9" cy="422.3" r="1.65" fill="#30303e"/><circle cx="742.8" cy="354.6" r="1.65" fill="#f4602e"/><circle cx="742.8" cy="451.0" r="1.65" fill="#2a9030"/><circle cx="742.9" cy="395.6" r="1.65" fill="#4a9fe0"/><circle cx="743.3" cy="319.8" r="1.65" fill="#5f8763"/><circle cx="743.6" cy="354.6" r="1.65" fill="#d62448"/><circle cx="743.4" cy="369.0" r="1.65" fill="#ee8ca4" fill-opacity="0.4"/><circle cx="743.6" cy="434.6" r="1.65" fill="#a4c45a" fill-opacity="0.4"/><circle cx="743.4" cy="387.4" r="1.65" fill="#f4602e"/><circle cx="743.7" cy="448.9" r="1.65" fill="#2a9030"/><circle cx="743.3" cy="393.6" r="1.65" fill="#4a9fe0"/><circle cx="743.5" cy="319.8" r="1.65" fill="#5f8763"/><circle cx="743.6" cy="352.6" r="1.65" fill="#d62448"/><circle cx="743.6" cy="369.0" r="1.65" fill="#ee8ca4" fill-opacity="0.4"/><circle cx="744.0" cy="428.4" r="1.65" fill="#a4c45a" fill-opacity="0.4"/><circle cx="743.6" cy="377.2" r="1.65" fill="#f4602e"/><circle cx="743.7" cy="387.4" r="1.65" fill="#4a9fe0"/><circle cx="743.7" cy="323.9" r="1.65" fill="#5f8763"/><circle cx="743.6" cy="366.9" r="1.65" fill="#d62448"/><circle cx="743.9" cy="375.1" r="1.65" fill="#ee8ca4" fill-opacity="0.4"/><circle cx="743.9" cy="422.3" r="1.65" fill="#a4c45a" fill-opacity="0.4"/><circle cx="744.0" cy="424.4" r="1.65" fill="#30303e"/><circle cx="743.9" cy="432.6" r="1.65" fill="#6e84c4"/><circle cx="744.1" cy="389.5" r="1.65" fill="#4a9fe0"/><circle cx="744.3" cy="352.6" r="1.65" fill="#5f8763"/><circle cx="744.2" cy="364.9" r="1.65" fill="#d62448"/><circle cx="744.3" cy="362.9" r="1.65" fill="#ee8ca4" fill-opacity="0.4"/><circle cx="744.3" cy="422.3" r="1.65" fill="#a4c45a" fill-opacity="0.4"/><circle cx="744.1" cy="432.6" r="1.65" fill="#30303e"/><circle cx="744.1" cy="360.8" r="1.65" fill="#f4602e"/><circle cx="744.5" cy="436.6" r="1.65" fill="#6e84c4"/><circle cx="744.1" cy="442.8" r="1.65" fill="#2a9030"/><circle cx="744.5" cy="375.1" r="1.65" fill="#4a9fe0"/><circle cx="744.5" cy="319.8" r="1.65" fill="#5f8763"/><circle cx="744.4" cy="366.9" r="1.65" fill="#d62448"/><circle cx="744.5" cy="364.9" r="1.65" fill="#ee8ca4" fill-opacity="0.4"/><circle cx="744.4" cy="426.4" r="1.65" fill="#a4c45a" fill-opacity="0.4"/><circle cx="744.2" cy="352.6" r="1.65" fill="#f4602e"/><circle cx="744.3" cy="440.8" r="1.65" fill="#6e84c4"/><circle cx="744.1" cy="393.6" r="1.65" fill="#4a9fe0"/><circle cx="744.4" cy="325.9" r="1.65" fill="#5f8763"/><circle cx="744.6" cy="360.8" r="1.65" fill="#d62448"/><circle cx="744.4" cy="377.2" r="1.65" fill="#ee8ca4" fill-opacity="0.4"/><circle cx="744.5" cy="428.4" r="1.65" fill="#a4c45a" fill-opacity="0.4"/><circle cx="744.7" cy="418.2" r="1.65" fill="#30303e"/><circle cx="744.7" cy="375.1" r="1.65" fill="#f4602e"/><circle cx="744.5" cy="391.6" r="1.65" fill="#4a9fe0"/><circle cx="744.6" cy="342.4" r="1.65" fill="#5f8763"/><circle cx="744.7" cy="366.9" r="1.65" fill="#d62448"/><circle cx="744.3" cy="371.1" r="1.65" fill="#ee8ca4" fill-opacity="0.4"/><circle cx="744.7" cy="434.6" r="1.65" fill="#30303e"/><circle cx="744.5" cy="366.9" r="1.65" fill="#f4602e"/><circle cx="744.2" cy="438.7" r="1.65" fill="#6e84c4"/><circle cx="744.5" cy="387.4" r="1.65" fill="#4a9fe0"/><circle cx="744.8" cy="340.3" r="1.65" fill="#5f8763"/><circle cx="744.9" cy="356.7" r="1.65" fill="#d62448"/><circle cx="744.9" cy="387.4" r="1.65" fill="#ee8ca4" fill-opacity="0.4"/><circle cx="744.4" cy="379.2" r="1.65" fill="#f4602e"/><circle cx="744.9" cy="430.5" r="1.65" fill="#6e84c4"/><circle cx="744.5" cy="389.5" r="1.65" fill="#4a9fe0"/><circle cx="746.9" cy="330.1" r="1.65" fill="#5f8763"/><circle cx="746.8" cy="383.4" r="1.65" fill="#d62448"/><circle cx="747.1" cy="366.9" r="1.65" fill="#ee8ca4" fill-opacity="0.4"/><circle cx="747.2" cy="424.4" r="1.65" fill="#a4c45a" fill-opacity="0.4"/><circle cx="747.1" cy="356.7" r="1.65" fill="#f4602e"/><circle cx="747.2" cy="434.6" r="1.65" fill="#6e84c4"/><circle cx="746.9" cy="442.8" r="1.65" fill="#2a9030"/><circle cx="746.7" cy="389.5" r="1.65" fill="#4a9fe0"/><circle cx="747.1" cy="340.3" r="1.65" fill="#5f8763"/><circle cx="747.6" cy="360.8" r="1.65" fill="#d62448"/><circle cx="747.6" cy="373.1" r="1.65" fill="#ee8ca4" fill-opacity="0.4"/><circle cx="747.6" cy="422.3" r="1.65" fill="#a4c45a" fill-opacity="0.4"/><circle cx="747.3" cy="424.4" r="1.65" fill="#30303e"/><circle cx="747.1" cy="432.6" r="1.65" fill="#6e84c4"/><circle cx="747.6" cy="375.1" r="1.65" fill="#4a9fe0"/><circle cx="747.5" cy="344.4" r="1.65" fill="#5f8763"/><circle cx="747.2" cy="369.0" r="1.65" fill="#d62448"/><circle cx="747.7" cy="369.0" r="1.65" fill="#ee8ca4" fill-opacity="0.4"/><circle cx="747.5" cy="426.4" r="1.65" fill="#a4c45a" fill-opacity="0.4"/><circle cx="747.5" cy="428.4" r="1.65" fill="#30303e"/><circle cx="747.5" cy="369.0" r="1.65" fill="#f4602e"/><circle cx="747.5" cy="446.9" r="1.65" fill="#2a9030"/><circle cx="747.5" cy="377.2" r="1.65" fill="#4a9fe0"/><circle cx="747.9" cy="373.1" r="1.65" fill="#d62448"/><circle cx="748.0" cy="366.9" r="1.65" fill="#ee8ca4" fill-opacity="0.4"/><circle cx="748.1" cy="430.5" r="1.65" fill="#a4c45a" fill-opacity="0.4"/><circle cx="747.7" cy="373.1" r="1.65" fill="#f4602e"/><circle cx="748.2" cy="438.7" r="1.65" fill="#6e84c4"/><circle cx="748.2" cy="383.4" r="1.65" fill="#4a9fe0"/><circle cx="748.7" cy="362.9" r="1.65" fill="#d62448"/><circle cx="748.7" cy="366.9" r="1.65" fill="#ee8ca4" fill-opacity="0.4"/><circle cx="748.7" cy="426.4" r="1.65" fill="#a4c45a" fill-opacity="0.4"/><circle cx="748.4" cy="422.3" r="1.65" fill="#30303e"/><circle cx="748.7" cy="379.2" r="1.65" fill="#f4602e"/><circle cx="748.8" cy="426.4" r="1.65" fill="#6e84c4"/><circle cx="748.5" cy="383.4" r="1.65" fill="#4a9fe0"/><circle cx="748.7" cy="338.2" r="1.65" fill="#5f8763"/><circle cx="748.7" cy="373.1" r="1.65" fill="#d62448"/><circle cx="748.5" cy="373.1" r="1.65" fill="#ee8ca4" fill-opacity="0.4"/><circle cx="748.4" cy="430.5" r="1.65" fill="#30303e"/><circle cx="748.8" cy="371.1" r="1.65" fill="#f4602e"/><circle cx="748.8" cy="379.2" r="1.65" fill="#4a9fe0"/><circle cx="751.5" cy="325.9" r="1.65" fill="#5f8763"/><circle cx="751.5" cy="385.4" r="1.65" fill="#d62448"/><circle cx="751.9" cy="430.5" r="1.65" fill="#a4c45a" fill-opacity="0.4"/><circle cx="751.6" cy="428.4" r="1.65" fill="#30303e"/><circle cx="751.5" cy="381.3" r="1.65" fill="#f4602e"/><circle cx="751.9" cy="436.6" r="1.65" fill="#6e84c4"/><circle cx="751.8" cy="369.0" r="1.65" fill="#4a9fe0"/><circle cx="753.0" cy="287.0" r="1.65" fill="#5f8763"/><circle cx="752.8" cy="379.2" r="1.65" fill="#ee8ca4" fill-opacity="0.4"/><circle cx="752.9" cy="424.4" r="1.65" fill="#a4c45a" fill-opacity="0.4"/><circle cx="753.3" cy="414.1" r="1.65" fill="#30303e"/><circle cx="752.9" cy="387.4" r="1.65" fill="#f4602e"/><circle cx="753.2" cy="432.6" r="1.65" fill="#6e84c4"/><circle cx="753.3" cy="444.8" r="1.65" fill="#2a9030"/><circle cx="753.2" cy="375.1" r="1.65" fill="#4a9fe0"/><circle cx="754.2" cy="307.5" r="1.65" fill="#5f8763"/><circle cx="754.2" cy="377.2" r="1.65" fill="#d62448"/><circle cx="754.3" cy="373.1" r="1.65" fill="#ee8ca4" fill-opacity="0.4"/><circle cx="754.2" cy="430.5" r="1.65" fill="#a4c45a" fill-opacity="0.4"/><circle cx="754.2" cy="410.0" r="1.65" fill="#30303e"/><circle cx="753.9" cy="364.9" r="1.65" fill="#f4602e"/><circle cx="754.1" cy="438.7" r="1.65" fill="#6e84c4"/><circle cx="754.2" cy="375.1" r="1.65" fill="#4a9fe0"/><circle cx="754.2" cy="334.1" r="1.65" fill="#5f8763"/><circle cx="754.4" cy="373.1" r="1.65" fill="#d62448"/><circle cx="754.4" cy="389.5" r="1.65" fill="#ee8ca4" fill-opacity="0.4"/><circle cx="754.1" cy="420.2" r="1.65" fill="#30303e"/><circle cx="754.8" cy="338.2" r="1.65" fill="#5f8763"/><circle cx="754.8" cy="379.2" r="1.65" fill="#d62448"/><circle cx="754.6" cy="424.4" r="1.65" fill="#a4c45a" fill-opacity="0.4"/><circle cx="754.5" cy="414.1" r="1.65" fill="#30303e"/><circle cx="754.4" cy="385.4" r="1.65" fill="#f4602e"/><circle cx="754.6" cy="371.1" r="1.65" fill="#4a9fe0"/><circle cx="754.7" cy="336.2" r="1.65" fill="#5f8763"/><circle cx="754.5" cy="366.9" r="1.65" fill="#d62448"/><circle cx="754.7" cy="379.2" r="1.65" fill="#ee8ca4" fill-opacity="0.4"/><circle cx="754.7" cy="436.6" r="1.65" fill="#a4c45a" fill-opacity="0.4"/><circle cx="755.0" cy="420.2" r="1.65" fill="#30303e"/><circle cx="754.5" cy="383.4" r="1.65" fill="#f4602e"/><circle cx="754.8" cy="436.6" r="1.65" fill="#6e84c4"/><circle cx="754.7" cy="444.8" r="1.65" fill="#2a9030"/><circle cx="755.0" cy="403.9" r="1.65" fill="#4a9fe0"/><circle cx="754.9" cy="332.1" r="1.65" fill="#5f8763"/><circle cx="755.1" cy="375.1" r="1.65" fill="#d62448"/><circle cx="755.1" cy="366.9" r="1.65" fill="#ee8ca4" fill-opacity="0.4"/><circle cx="754.7" cy="422.3" r="1.65" fill="#30303e"/><circle cx="754.6" cy="383.4" r="1.65" fill="#f4602e"/><circle cx="755.1" cy="438.7" r="1.65" fill="#6e84c4"/><circle cx="754.9" cy="373.1" r="1.65" fill="#4a9fe0"/><circle cx="754.9" cy="350.6" r="1.65" fill="#5f8763"/><circle cx="755.1" cy="389.5" r="1.65" fill="#d62448"/><circle cx="754.8" cy="426.4" r="1.65" fill="#a4c45a" fill-opacity="0.4"/><circle cx="754.7" cy="438.7" r="1.65" fill="#6e84c4"/><circle cx="755.3" cy="442.8" r="1.65" fill="#2a9030"/><circle cx="754.8" cy="393.6" r="1.65" fill="#4a9fe0"/><circle cx="757.3" cy="315.7" r="1.65" fill="#5f8763"/><circle cx="756.8" cy="362.9" r="1.65" fill="#d62448"/><circle cx="756.9" cy="385.4" r="1.65" fill="#ee8ca4" fill-opacity="0.4"/><circle cx="757.2" cy="426.4" r="1.65" fill="#a4c45a" fill-opacity="0.4"/><circle cx="756.8" cy="414.1" r="1.65" fill="#30303e"/><circle cx="756.8" cy="389.5" r="1.65" fill="#f4602e"/><circle cx="756.7" cy="440.8" r="1.65" fill="#6e84c4"/><circle cx="756.7" cy="387.4" r="1.65" fill="#4a9fe0"/><circle cx="758.2" cy="391.6" r="1.65" fill="#d62448"/><circle cx="757.9" cy="366.9" r="1.65" fill="#ee8ca4" fill-opacity="0.4"/><circle cx="758.0" cy="438.7" r="1.65" fill="#a4c45a" fill-opacity="0.4"/><circle cx="757.8" cy="412.1" r="1.65" fill="#30303e"/><circle cx="757.8" cy="434.6" r="1.65" fill="#6e84c4"/><circle cx="758.1" cy="444.8" r="1.65" fill="#2a9030"/><circle cx="757.8" cy="387.4" r="1.65" fill="#4a9fe0"/><circle cx="757.9" cy="346.4" r="1.65" fill="#5f8763"/><circle cx="757.9" cy="379.2" r="1.65" fill="#d62448"/><circle cx="758.0" cy="366.9" r="1.65" fill="#ee8ca4" fill-opacity="0.4"/><circle cx="758.3" cy="418.2" r="1.65" fill="#30303e"/><circle cx="757.9" cy="383.4" r="1.65" fill="#f4602e"/><circle cx="757.9" cy="434.6" r="1.65" fill="#6e84c4"/><circle cx="758.4" cy="448.9" r="1.65" fill="#2a9030"/><circle cx="757.9" cy="371.1" r="1.65" fill="#d62448"/><circle cx="758.0" cy="389.5" r="1.65" fill="#ee8ca4" fill-opacity="0.4"/><circle cx="757.9" cy="418.2" r="1.65" fill="#30303e"/><circle cx="758.3" cy="377.2" r="1.65" fill="#f4602e"/><circle cx="758.4" cy="436.6" r="1.65" fill="#6e84c4"/><circle cx="758.2" cy="448.9" r="1.65" fill="#2a9030"/><circle cx="758.3" cy="383.4" r="1.65" fill="#4a9fe0"/><circle cx="758.0" cy="346.4" r="1.65" fill="#5f8763"/><circle cx="758.1" cy="369.0" r="1.65" fill="#d62448"/><circle cx="758.3" cy="366.9" r="1.65" fill="#ee8ca4" fill-opacity="0.4"/><circle cx="758.1" cy="432.6" r="1.65" fill="#a4c45a" fill-opacity="0.4"/><circle cx="758.4" cy="410.0" r="1.65" fill="#30303e"/><circle cx="758.5" cy="383.4" r="1.65" fill="#f4602e"/><circle cx="758.5" cy="434.6" r="1.65" fill="#6e84c4"/><circle cx="758.3" cy="395.6" r="1.65" fill="#4a9fe0"/><circle cx="759.4" cy="325.9" r="1.65" fill="#5f8763"/><circle cx="759.3" cy="381.3" r="1.65" fill="#d62448"/><circle cx="759.6" cy="364.9" r="1.65" fill="#ee8ca4" fill-opacity="0.4"/><circle cx="759.5" cy="424.4" r="1.65" fill="#a4c45a" fill-opacity="0.4"/><circle cx="759.6" cy="416.1" r="1.65" fill="#30303e"/><circle cx="759.7" cy="444.8" r="1.65" fill="#2a9030"/><circle cx="759.7" cy="371.1" r="1.65" fill="#4a9fe0"/><circle cx="760.4" cy="366.9" r="1.65" fill="#d62448"/><circle cx="760.7" cy="369.0" r="1.65" fill="#ee8ca4" fill-opacity="0.4"/><circle cx="760.2" cy="430.5" r="1.65" fill="#a4c45a" fill-opacity="0.4"/><circle cx="760.1" cy="391.6" r="1.65" fill="#f4602e"/><circle cx="760.4" cy="436.6" r="1.65" fill="#6e84c4"/><circle cx="760.4" cy="446.9" r="1.65" fill="#2a9030"/><circle cx="760.5" cy="389.5" r="1.65" fill="#4a9fe0"/><circle cx="760.3" cy="340.3" r="1.65" fill="#5f8763"/><circle cx="760.3" cy="371.1" r="1.65" fill="#d62448"/><circle cx="760.3" cy="369.0" r="1.65" fill="#ee8ca4" fill-opacity="0.4"/><circle cx="760.6" cy="432.6" r="1.65" fill="#a4c45a" fill-opacity="0.4"/><circle cx="760.7" cy="383.4" r="1.65" fill="#f4602e"/><circle cx="760.5" cy="440.8" r="1.65" fill="#2a9030"/><circle cx="760.8" cy="385.4" r="1.65" fill="#4a9fe0"/><circle cx="763.6" cy="319.8" r="1.65" fill="#5f8763"/><circle cx="764.0" cy="383.4" r="1.65" fill="#d62448"/><circle cx="763.9" cy="375.1" r="1.65" fill="#ee8ca4" fill-opacity="0.4"/><circle cx="763.7" cy="424.4" r="1.65" fill="#a4c45a" fill-opacity="0.4"/><circle cx="763.6" cy="430.5" r="1.65" fill="#6e84c4"/><circle cx="763.4" cy="448.9" r="1.65" fill="#2a9030"/><circle cx="763.5" cy="375.1" r="1.65" fill="#4a9fe0"/><circle cx="764.1" cy="379.2" r="1.65" fill="#d62448"/><circle cx="764.1" cy="369.0" r="1.65" fill="#ee8ca4" fill-opacity="0.4"/><circle cx="764.0" cy="420.2" r="1.65" fill="#a4c45a" fill-opacity="0.4"/><circle cx="763.9" cy="414.1" r="1.65" fill="#30303e"/><circle cx="763.7" cy="432.6" r="1.65" fill="#6e84c4"/><circle cx="763.8" cy="438.7" r="1.65" fill="#2a9030"/><circle cx="764.0" cy="385.4" r="1.65" fill="#4a9fe0"/><circle cx="764.5" cy="293.1" r="1.65" fill="#5f8763"/><circle cx="764.4" cy="366.9" r="1.65" fill="#d62448"/><circle cx="764.2" cy="364.9" r="1.65" fill="#ee8ca4" fill-opacity="0.4"/><circle cx="764.4" cy="432.6" r="1.65" fill="#a4c45a" fill-opacity="0.4"/><circle cx="764.5" cy="416.1" r="1.65" fill="#30303e"/><circle cx="764.5" cy="436.6" r="1.65" fill="#6e84c4"/><circle cx="764.5" cy="375.1" r="1.65" fill="#4a9fe0"/><circle cx="764.7" cy="309.6" r="1.65" fill="#5f8763"/><circle cx="764.7" cy="379.2" r="1.65" fill="#d62448"/><circle cx="764.8" cy="366.9" r="1.65" fill="#ee8ca4" fill-opacity="0.4"/><circle cx="764.5" cy="424.4" r="1.65" fill="#a4c45a" fill-opacity="0.4"/><circle cx="764.7" cy="422.3" r="1.65" fill="#30303e"/><circle cx="764.9" cy="399.8" r="1.65" fill="#f4602e"/><circle cx="764.4" cy="434.6" r="1.65" fill="#6e84c4"/><circle cx="764.7" cy="383.4" r="1.65" fill="#4a9fe0"/><circle cx="764.5" cy="332.1" r="1.65" fill="#5f8763"/><circle cx="764.5" cy="393.6" r="1.65" fill="#d62448"/><circle cx="764.6" cy="358.8" r="1.65" fill="#ee8ca4" fill-opacity="0.4"/><circle cx="764.9" cy="422.3" r="1.65" fill="#a4c45a" fill-opacity="0.4"/><circle cx="764.9" cy="410.0" r="1.65" fill="#30303e"/><circle cx="764.9" cy="391.6" r="1.65" fill="#f4602e"/><circle cx="765.0" cy="366.9" r="1.65" fill="#4a9fe0"/><circle cx="764.8" cy="328.0" r="1.65" fill="#5f8763"/><circle cx="764.7" cy="350.6" r="1.65" fill="#ee8ca4" fill-opacity="0.4"/><circle cx="764.7" cy="434.6" r="1.65" fill="#a4c45a" fill-opacity="0.4"/><circle cx="764.8" cy="410.0" r="1.65" fill="#30303e"/><circle cx="764.8" cy="389.5" r="1.65" fill="#f4602e"/><circle cx="764.7" cy="438.7" r="1.65" fill="#6e84c4"/><circle cx="764.6" cy="366.9" r="1.65" fill="#4a9fe0"/><circle cx="764.8" cy="325.9" r="1.65" fill="#5f8763"/><circle cx="765.2" cy="377.2" r="1.65" fill="#d62448"/><circle cx="765.2" cy="358.8" r="1.65" fill="#ee8ca4" fill-opacity="0.4"/><circle cx="764.7" cy="373.1" r="1.65" fill="#f4602e"/><circle cx="765.0" cy="438.7" r="1.65" fill="#6e84c4"/><circle cx="765.0" cy="453.1" r="1.65" fill="#2a9030"/><circle cx="765.0" cy="313.6" r="1.65" fill="#5f8763"/><circle cx="765.1" cy="373.1" r="1.65" fill="#d62448"/><circle cx="765.3" cy="366.9" r="1.65" fill="#ee8ca4" fill-opacity="0.4"/><circle cx="764.9" cy="428.4" r="1.65" fill="#a4c45a" fill-opacity="0.4"/><circle cx="765.0" cy="414.1" r="1.65" fill="#30303e"/><circle cx="765.0" cy="410.0" r="1.65" fill="#f4602e"/><circle cx="765.1" cy="426.4" r="1.65" fill="#6e84c4"/><circle cx="764.8" cy="360.8" r="1.65" fill="#4a9fe0"/><circle cx="765.4" cy="321.9" r="1.65" fill="#5f8763"/><circle cx="765.4" cy="375.1" r="1.65" fill="#d62448"/><circle cx="765.3" cy="360.8" r="1.65" fill="#ee8ca4" fill-opacity="0.4"/><circle cx="765.1" cy="395.6" r="1.65" fill="#f4602e"/><circle cx="764.9" cy="438.7" r="1.65" fill="#6e84c4"/><circle cx="765.0" cy="369.0" r="1.65" fill="#4a9fe0"/><circle cx="768.7" cy="373.1" r="1.65" fill="#d62448"/><circle cx="769.1" cy="350.6" r="1.65" fill="#ee8ca4" fill-opacity="0.4"/><circle cx="768.9" cy="426.4" r="1.65" fill="#a4c45a" fill-opacity="0.4"/><circle cx="769.0" cy="393.6" r="1.65" fill="#f4602e"/><circle cx="768.8" cy="432.6" r="1.65" fill="#6e84c4"/><circle cx="769.0" cy="348.5" r="1.65" fill="#4a9fe0"/><circle cx="769.5" cy="321.9" r="1.65" fill="#5f8763"/><circle cx="769.5" cy="383.4" r="1.65" fill="#d62448"/><circle cx="769.7" cy="342.4" r="1.65" fill="#ee8ca4" fill-opacity="0.4"/><circle cx="769.4" cy="414.1" r="1.65" fill="#30303e"/><circle cx="769.6" cy="393.6" r="1.65" fill="#f4602e"/><circle cx="769.5" cy="377.2" r="1.65" fill="#4a9fe0"/><circle cx="770.4" cy="389.5" r="1.65" fill="#d62448"/><circle cx="770.7" cy="342.4" r="1.65" fill="#ee8ca4" fill-opacity="0.4"/><circle cx="770.7" cy="432.6" r="1.65" fill="#a4c45a" fill-opacity="0.4"/><circle cx="770.2" cy="410.0" r="1.65" fill="#30303e"/><circle cx="770.7" cy="371.1" r="1.65" fill="#4a9fe0"/><circle cx="771.0" cy="325.9" r="1.65" fill="#5f8763"/><circle cx="771.0" cy="393.6" r="1.65" fill="#d62448"/><circle cx="770.5" cy="334.1" r="1.65" fill="#ee8ca4" fill-opacity="0.4"/><circle cx="770.9" cy="436.6" r="1.65" fill="#a4c45a" fill-opacity="0.4"/><circle cx="770.5" cy="414.1" r="1.65" fill="#30303e"/><circle cx="770.5" cy="391.6" r="1.65" fill="#f4602e"/><circle cx="770.7" cy="371.1" r="1.65" fill="#4a9fe0"/><circle cx="773.9" cy="336.2" r="1.65" fill="#5f8763"/><circle cx="773.9" cy="395.6" r="1.65" fill="#d62448"/><circle cx="773.8" cy="344.4" r="1.65" fill="#ee8ca4" fill-opacity="0.4"/><circle cx="774.1" cy="432.6" r="1.65" fill="#a4c45a" fill-opacity="0.4"/><circle cx="773.8" cy="410.0" r="1.65" fill="#30303e"/><circle cx="774.2" cy="407.9" r="1.65" fill="#f4602e"/><circle cx="774.0" cy="438.7" r="1.65" fill="#6e84c4"/><circle cx="773.9" cy="375.1" r="1.65" fill="#4a9fe0"/><circle cx="775.9" cy="332.1" r="1.65" fill="#5f8763"/><circle cx="775.8" cy="336.2" r="1.65" fill="#ee8ca4" fill-opacity="0.4"/><circle cx="775.8" cy="432.6" r="1.65" fill="#a4c45a" fill-opacity="0.4"/><circle cx="775.9" cy="414.1" r="1.65" fill="#f4602e"/><circle cx="776.1" cy="432.6" r="1.65" fill="#6e84c4"/><circle cx="776.0" cy="377.2" r="1.65" fill="#4a9fe0"/><circle cx="112.5" cy="387.5" r="1.65" fill="#d62448"/><circle cx="100.5" cy="393.2" r="1.65" fill="#d62448"/><circle cx="100.5" cy="398.0" r="1.65" fill="#d62448"/><circle cx="115.5" cy="402.5" r="1.65" fill="#d62448"/><circle cx="119.5" cy="400.8" r="1.65" fill="#d62448"/><circle cx="121.2" cy="397.0" r="1.65" fill="#d62448"/><circle cx="78.8" cy="398.0" r="1.65" fill="#d62448"/><circle cx="142.5" cy="393.0" r="1.65" fill="#d62448"/><circle cx="146.2" cy="391.2" r="1.65" fill="#d62448"/><circle cx="150.8" cy="394.5" r="1.65" fill="#d62448"/><circle cx="142.5" cy="396.2" r="1.65" fill="#d62448"/><circle cx="146.2" cy="398.0" r="1.65" fill="#d62448"/><circle cx="147.0" cy="401.2" r="1.65" fill="#d62448"/><circle cx="167.0" cy="397.5" r="1.65" fill="#d62448"/><circle cx="178.8" cy="397.5" r="1.65" fill="#d62448"/><circle cx="187.5" cy="397.5" r="1.65" fill="#d62448"/><circle cx="187.5" cy="363.8" r="1.65" fill="#d62448"/><circle cx="188.8" cy="373.2" r="1.65" fill="#d62448"/><circle cx="185.0" cy="376.8" r="1.65" fill="#d62448"/><circle cx="190.0" cy="379.5" r="1.65" fill="#d62448"/><circle cx="188.0" cy="381.2" r="1.65" fill="#d62448"/><circle cx="187.0" cy="385.0" r="1.65" fill="#d62448"/><circle cx="202.5" cy="389.2" r="1.65" fill="#d62448"/><circle cx="205.0" cy="389.2" r="1.65" fill="#d62448"/><circle cx="213.8" cy="393.2" r="1.65" fill="#d62448"/><circle cx="220.5" cy="374.2" r="1.65" fill="#d62448"/><circle cx="223.8" cy="361.2" r="1.65" fill="#d62448"/><circle cx="225.0" cy="382.0" r="1.65" fill="#d62448"/><circle cx="226.2" cy="385.0" r="1.65" fill="#d62448"/><circle cx="231.2" cy="389.2" r="1.65" fill="#d62448"/><circle cx="236.2" cy="370.5" r="1.65" fill="#d62448"/><circle cx="237.0" cy="371.8" r="1.65" fill="#d62448"/><circle cx="234.5" cy="376.8" r="1.65" fill="#d62448"/><circle cx="255.0" cy="380.0" r="1.65" fill="#d62448"/><circle cx="267.5" cy="353.0" r="1.65" fill="#d62448"/><circle cx="284.2" cy="356.2" r="1.65" fill="#d62448"/><circle cx="273.2" cy="362.5" r="1.65" fill="#d62448"/><circle cx="273.2" cy="367.0" r="1.65" fill="#d62448"/><circle cx="273.8" cy="368.2" r="1.65" fill="#d62448"/><circle cx="276.2" cy="376.8" r="1.65" fill="#d62448"/><circle cx="255.0" cy="380.8" r="1.65" fill="#d62448"/><circle cx="258.0" cy="389.2" r="1.65" fill="#d62448"/><circle cx="317.5" cy="360.5" r="1.65" fill="#d62448"/><circle cx="323.8" cy="352.0" r="1.65" fill="#d62448"/><circle cx="336.2" cy="364.2" r="1.65" fill="#d62448"/><circle cx="336.2" cy="372.5" r="1.65" fill="#d62448"/><circle cx="322.5" cy="371.8" r="1.65" fill="#d62448"/><circle cx="325.0" cy="371.2" r="1.65" fill="#d62448"/><circle cx="325.8" cy="372.5" r="1.65" fill="#d62448"/><circle cx="320.0" cy="385.0" r="1.65" fill="#d62448"/><circle cx="344.2" cy="368.8" r="1.65" fill="#d62448"/><circle cx="351.2" cy="360.5" r="1.65" fill="#d62448"/><circle cx="352.5" cy="364.2" r="1.65" fill="#d62448"/><circle cx="368.8" cy="368.8" r="1.65" fill="#d62448"/><circle cx="375.5" cy="376.8" r="1.65" fill="#d62448"/><circle cx="382.5" cy="369.5" r="1.65" fill="#d62448"/><circle cx="388.8" cy="377.0" r="1.65" fill="#d62448"/><circle cx="392.5" cy="368.8" r="1.65" fill="#d62448"/><circle cx="396.2" cy="360.5" r="1.65" fill="#d62448"/><circle cx="400.0" cy="360.5" r="1.65" fill="#d62448"/><circle cx="404.5" cy="353.8" r="1.65" fill="#d62448"/><circle cx="419.5" cy="363.0" r="1.65" fill="#d62448"/><circle cx="418.0" cy="372.5" r="1.65" fill="#d62448"/><circle cx="420.0" cy="374.2" r="1.65" fill="#d62448"/><circle cx="429.5" cy="353.8" r="1.65" fill="#d62448"/><circle cx="425.5" cy="360.0" r="1.65" fill="#d62448"/><circle cx="444.5" cy="363.0" r="1.65" fill="#d62448"/><circle cx="443.2" cy="372.5" r="1.65" fill="#d62448"/><circle cx="444.5" cy="374.2" r="1.65" fill="#d62448"/><circle cx="438.0" cy="362.5" r="1.65" fill="#d62448"/><circle cx="439.2" cy="372.5" r="1.65" fill="#d62448"/><circle cx="443.8" cy="356.2" r="1.65" fill="#d62448"/><circle cx="445.5" cy="352.5" r="1.65" fill="#d62448"/><circle cx="446.8" cy="370.0" r="1.65" fill="#d62448"/><circle cx="449.2" cy="373.8" r="1.65" fill="#d62448"/><circle cx="451.2" cy="372.5" r="1.65" fill="#d62448"/><circle cx="453.8" cy="365.0" r="1.65" fill="#d62448"/><circle cx="456.2" cy="359.2" r="1.65" fill="#d62448"/><circle cx="457.5" cy="368.2" r="1.65" fill="#d62448"/><circle cx="473.8" cy="372.5" r="1.65" fill="#d62448"/><circle cx="478.2" cy="377.0" r="1.65" fill="#d62448"/><circle cx="486.2" cy="359.5" r="1.65" fill="#d62448"/><circle cx="487.5" cy="358.0" r="1.65" fill="#d62448"/><circle cx="491.2" cy="357.0" r="1.65" fill="#d62448"/><circle cx="498.2" cy="360.0" r="1.65" fill="#d62448"/><circle cx="503.8" cy="360.5" r="1.65" fill="#d62448"/><circle cx="506.2" cy="353.0" r="1.65" fill="#d62448"/><circle cx="507.5" cy="360.5" r="1.65" fill="#d62448"/><circle cx="503.2" cy="374.2" r="1.65" fill="#d62448"/><circle cx="514.5" cy="377.5" r="1.65" fill="#d62448"/><circle cx="513.2" cy="380.8" r="1.65" fill="#d62448"/><circle cx="519.2" cy="352.5" r="1.65" fill="#d62448"/><circle cx="520.0" cy="360.0" r="1.65" fill="#d62448"/><circle cx="519.2" cy="364.2" r="1.65" fill="#d62448"/><circle cx="528.0" cy="368.2" r="1.65" fill="#d62448"/><circle cx="533.8" cy="380.0" r="1.65" fill="#d62448"/><circle cx="537.5" cy="348.2" r="1.65" fill="#d62448"/><circle cx="538.2" cy="355.5" r="1.65" fill="#d62448"/><circle cx="537.5" cy="368.2" r="1.65" fill="#d62448"/><circle cx="540.0" cy="374.2" r="1.65" fill="#d62448"/><circle cx="538.2" cy="382.5" r="1.65" fill="#d62448"/><circle cx="545.8" cy="375.0" r="1.65" fill="#d62448"/><circle cx="550.0" cy="352.0" r="1.65" fill="#d62448"/><circle cx="550.8" cy="363.8" r="1.65" fill="#d62448"/><circle cx="554.2" cy="364.2" r="1.65" fill="#d62448"/><circle cx="555.5" cy="367.5" r="1.65" fill="#d62448"/><circle cx="578.8" cy="364.2" r="1.65" fill="#d62448"/><circle cx="591.2" cy="381.2" r="1.65" fill="#d62448"/><circle cx="592.5" cy="372.5" r="1.65" fill="#d62448"/><circle cx="593.2" cy="374.2" r="1.65" fill="#d62448"/><circle cx="596.8" cy="372.5" r="1.65" fill="#d62448"/><circle cx="595.0" cy="352.0" r="1.65" fill="#d62448"/><circle cx="607.5" cy="372.5" r="1.65" fill="#d62448"/><circle cx="608.2" cy="368.8" r="1.65" fill="#d62448"/><circle cx="610.8" cy="346.2" r="1.65" fill="#d62448"/><circle cx="617.0" cy="372.5" r="1.65" fill="#d62448"/><circle cx="621.2" cy="348.2" r="1.65" fill="#d62448"/><circle cx="78.8" cy="409.5" r="1.65" fill="#2c2c7a"/><circle cx="100.5" cy="398.8" r="1.65" fill="#2c2c7a"/><circle cx="100.5" cy="409.5" r="1.65" fill="#2c2c7a"/><circle cx="112.5" cy="404.5" r="1.65" fill="#2c2c7a"/><circle cx="120.5" cy="418.0" r="1.65" fill="#2c2c7a"/><circle cx="115.5" cy="425.8" r="1.65" fill="#2c2c7a"/><circle cx="119.5" cy="421.2" r="1.65" fill="#2c2c7a"/><circle cx="142.5" cy="410.8" r="1.65" fill="#2c2c7a"/><circle cx="146.2" cy="413.0" r="1.65" fill="#2c2c7a"/><circle cx="150.8" cy="408.8" r="1.65" fill="#2c2c7a"/><circle cx="146.8" cy="417.5" r="1.65" fill="#2c2c7a"/><circle cx="146.8" cy="421.2" r="1.65" fill="#2c2c7a"/><circle cx="167.0" cy="409.5" r="1.65" fill="#2c2c7a"/><circle cx="179.2" cy="405.5" r="1.65" fill="#2c2c7a"/><circle cx="185.0" cy="388.8" r="1.65" fill="#2c2c7a"/><circle cx="188.2" cy="390.0" r="1.65" fill="#2c2c7a"/><circle cx="187.0" cy="409.5" r="1.65" fill="#2c2c7a"/><circle cx="190.0" cy="407.0" r="1.65" fill="#2c2c7a"/><circle cx="202.5" cy="405.5" r="1.65" fill="#2c2c7a"/><circle cx="205.0" cy="398.0" r="1.65" fill="#2c2c7a"/><circle cx="213.2" cy="409.5" r="1.65" fill="#2c2c7a"/><circle cx="220.8" cy="410.5" r="1.65" fill="#2c2c7a"/><circle cx="225.8" cy="410.5" r="1.65" fill="#2c2c7a"/><circle cx="231.2" cy="409.5" r="1.65" fill="#2c2c7a"/><circle cx="234.5" cy="409.5" r="1.65" fill="#2c2c7a"/><circle cx="223.8" cy="382.5" r="1.65" fill="#2c2c7a"/><circle cx="225.8" cy="395.5" r="1.65" fill="#2c2c7a"/><circle cx="236.2" cy="399.5" r="1.65" fill="#2c2c7a"/><circle cx="237.0" cy="400.8" r="1.65" fill="#2c2c7a"/><circle cx="255.0" cy="413.8" r="1.65" fill="#2c2c7a"/><circle cx="273.8" cy="395.5" r="1.65" fill="#2c2c7a"/><circle cx="273.0" cy="398.0" r="1.65" fill="#2c2c7a"/><circle cx="273.0" cy="403.2" r="1.65" fill="#2c2c7a"/><circle cx="268.0" cy="409.2" r="1.65" fill="#2c2c7a"/><circle cx="275.8" cy="409.2" r="1.65" fill="#2c2c7a"/><circle cx="255.0" cy="413.8" r="1.65" fill="#2c2c7a"/><circle cx="258.0" cy="413.8" r="1.65" fill="#2c2c7a"/><circle cx="284.2" cy="417.5" r="1.65" fill="#2c2c7a"/><circle cx="317.5" cy="384.2" r="1.65" fill="#2c2c7a"/><circle cx="324.2" cy="397.5" r="1.65" fill="#2c2c7a"/><circle cx="320.8" cy="402.5" r="1.65" fill="#2c2c7a"/><circle cx="325.0" cy="403.8" r="1.65" fill="#2c2c7a"/><circle cx="325.8" cy="406.2" r="1.65" fill="#2c2c7a"/><circle cx="323.2" cy="413.2" r="1.65" fill="#2c2c7a"/><circle cx="336.2" cy="405.8" r="1.65" fill="#2c2c7a"/><circle cx="352.0" cy="407.5" r="1.65" fill="#2c2c7a"/><circle cx="344.2" cy="413.2" r="1.65" fill="#2c2c7a"/><circle cx="351.2" cy="413.2" r="1.65" fill="#2c2c7a"/><circle cx="356.8" cy="417.5" r="1.65" fill="#2c2c7a"/><circle cx="368.8" cy="417.5" r="1.65" fill="#2c2c7a"/><circle cx="375.5" cy="421.2" r="1.65" fill="#2c2c7a"/><circle cx="382.5" cy="414.2" r="1.65" fill="#2c2c7a"/><circle cx="388.8" cy="417.5" r="1.65" fill="#2c2c7a"/><circle cx="392.5" cy="413.8" r="1.65" fill="#2c2c7a"/><circle cx="396.2" cy="400.5" r="1.65" fill="#2c2c7a"/><circle cx="400.0" cy="417.5" r="1.65" fill="#2c2c7a"/><circle cx="404.5" cy="410.8" r="1.65" fill="#2c2c7a"/><circle cx="419.5" cy="394.5" r="1.65" fill="#2c2c7a"/><circle cx="418.0" cy="413.2" r="1.65" fill="#2c2c7a"/><circle cx="425.0" cy="413.2" r="1.65" fill="#2c2c7a"/><circle cx="444.5" cy="394.5" r="1.65" fill="#2c2c7a"/><circle cx="443.0" cy="413.2" r="1.65" fill="#2c2c7a"/><circle cx="425.5" cy="413.2" r="1.65" fill="#2c2c7a"/><circle cx="429.5" cy="410.8" r="1.65" fill="#2c2c7a"/><circle cx="438.0" cy="388.8" r="1.65" fill="#2c2c7a"/><circle cx="439.2" cy="409.2" r="1.65" fill="#2c2c7a"/><circle cx="445.5" cy="393.2" r="1.65" fill="#2c2c7a"/><circle cx="446.8" cy="402.0" r="1.65" fill="#2c2c7a"/><circle cx="451.2" cy="405.5" r="1.65" fill="#2c2c7a"/><circle cx="453.8" cy="393.8" r="1.65" fill="#2c2c7a"/><circle cx="456.2" cy="385.0" r="1.65" fill="#2c2c7a"/><circle cx="457.0" cy="392.5" r="1.65" fill="#2c2c7a"/><circle cx="473.8" cy="376.2" r="1.65" fill="#2c2c7a"/><circle cx="478.2" cy="398.8" r="1.65" fill="#2c2c7a"/><circle cx="486.2" cy="388.8" r="1.65" fill="#2c2c7a"/><circle cx="487.5" cy="390.0" r="1.65" fill="#2c2c7a"/><circle cx="491.2" cy="389.5" r="1.65" fill="#2c2c7a"/><circle cx="498.2" cy="397.0" r="1.65" fill="#2c2c7a"/><circle cx="503.2" cy="385.0" r="1.65" fill="#2c2c7a"/><circle cx="506.2" cy="376.8" r="1.65" fill="#2c2c7a"/><circle cx="507.5" cy="393.2" r="1.65" fill="#2c2c7a"/><circle cx="513.2" cy="400.0" r="1.65" fill="#2c2c7a"/><circle cx="514.5" cy="399.5" r="1.65" fill="#2c2c7a"/><circle cx="519.2" cy="391.2" r="1.65" fill="#2c2c7a"/><circle cx="520.0" cy="397.0" r="1.65" fill="#2c2c7a"/><circle cx="528.0" cy="393.2" r="1.65" fill="#2c2c7a"/><circle cx="533.8" cy="404.5" r="1.65" fill="#2c2c7a"/><circle cx="537.5" cy="398.0" r="1.65" fill="#2c2c7a"/><circle cx="538.2" cy="385.8" r="1.65" fill="#2c2c7a"/><circle cx="537.5" cy="401.2" r="1.65" fill="#2c2c7a"/><circle cx="540.0" cy="393.2" r="1.65" fill="#2c2c7a"/><circle cx="538.2" cy="407.0" r="1.65" fill="#2c2c7a"/><circle cx="545.8" cy="407.0" r="1.65" fill="#2c2c7a"/><circle cx="550.0" cy="386.2" r="1.65" fill="#2c2c7a"/><circle cx="554.2" cy="397.0" r="1.65" fill="#2c2c7a"/><circle cx="555.5" cy="383.8" r="1.65" fill="#2c2c7a"/><circle cx="578.8" cy="397.0" r="1.65" fill="#2c2c7a"/><circle cx="591.2" cy="406.2" r="1.65" fill="#2c2c7a"/><circle cx="592.5" cy="393.2" r="1.65" fill="#2c2c7a"/><circle cx="596.8" cy="393.2" r="1.65" fill="#2c2c7a"/><circle cx="595.0" cy="397.5" r="1.65" fill="#2c2c7a"/><circle cx="607.5" cy="391.2" r="1.65" fill="#2c2c7a"/><circle cx="608.2" cy="403.0" r="1.65" fill="#2c2c7a"/><circle cx="610.8" cy="368.8" r="1.65" fill="#2c2c7a"/><circle cx="617.0" cy="385.0" r="1.65" fill="#2c2c7a"/><circle cx="621.2" cy="392.5" r="1.65" fill="#2c2c7a"/><circle cx="78.8" cy="417.5" r="1.65" fill="#ee8ca4" fill-opacity="0.4"/><circle cx="100.5" cy="418.0" r="1.65" fill="#ee8ca4" fill-opacity="0.4"/><circle cx="100.5" cy="425.0" r="1.65" fill="#ee8ca4" fill-opacity="0.4"/><circle cx="113.8" cy="420.0" r="1.65" fill="#ee8ca4" fill-opacity="0.4"/><circle cx="121.2" cy="418.8" r="1.65" fill="#ee8ca4" fill-opacity="0.4"/><circle cx="142.5" cy="421.2" r="1.65" fill="#ee8ca4" fill-opacity="0.4"/><circle cx="146.8" cy="423.8" r="1.65" fill="#ee8ca4" fill-opacity="0.4"/><circle cx="146.8" cy="427.0" r="1.65" fill="#ee8ca4" fill-opacity="0.4"/><circle cx="167.0" cy="421.2" r="1.65" fill="#ee8ca4" fill-opacity="0.4"/><circle cx="178.8" cy="422.0" r="1.65" fill="#ee8ca4" fill-opacity="0.4"/><circle cx="186.2" cy="413.8" r="1.65" fill="#ee8ca4" fill-opacity="0.4"/><circle cx="190.0" cy="411.8" r="1.65" fill="#ee8ca4" fill-opacity="0.4"/><circle cx="188.0" cy="417.5" r="1.65" fill="#ee8ca4" fill-opacity="0.4"/><circle cx="202.5" cy="418.2" r="1.65" fill="#ee8ca4" fill-opacity="0.4"/><circle cx="205.0" cy="421.2" r="1.65" fill="#ee8ca4" fill-opacity="0.4"/><circle cx="213.2" cy="417.5" r="1.65" fill="#ee8ca4" fill-opacity="0.4"/><circle cx="220.5" cy="423.2" r="1.65" fill="#ee8ca4" fill-opacity="0.4"/><circle cx="225.8" cy="423.8" r="1.65" fill="#ee8ca4" fill-opacity="0.4"/><circle cx="225.8" cy="425.0" r="1.65" fill="#ee8ca4" fill-opacity="0.4"/><circle cx="231.2" cy="417.5" r="1.65" fill="#ee8ca4" fill-opacity="0.4"/><circle cx="236.2" cy="417.5" r="1.65" fill="#ee8ca4" fill-opacity="0.4"/><circle cx="237.0" cy="421.2" r="1.65" fill="#ee8ca4" fill-opacity="0.4"/><circle cx="258.0" cy="421.2" r="1.65" fill="#ee8ca4" fill-opacity="0.4"/><circle cx="267.5" cy="421.2" r="1.65" fill="#ee8ca4" fill-opacity="0.4"/><circle cx="273.8" cy="418.2" r="1.65" fill="#ee8ca4" fill-opacity="0.4"/><circle cx="284.2" cy="413.8" r="1.65" fill="#ee8ca4" fill-opacity="0.4"/><circle cx="284.2" cy="421.2" r="1.65" fill="#ee8ca4" fill-opacity="0.4"/><circle cx="344.2" cy="421.8" r="1.65" fill="#ee8ca4" fill-opacity="0.4"/><circle cx="352.0" cy="425.0" r="1.65" fill="#ee8ca4" fill-opacity="0.4"/><circle cx="356.8" cy="414.2" r="1.65" fill="#ee8ca4" fill-opacity="0.4"/><circle cx="388.8" cy="425.0" r="1.65" fill="#ee8ca4" fill-opacity="0.4"/><circle cx="400.0" cy="421.2" r="1.65" fill="#ee8ca4" fill-opacity="0.4"/><circle cx="404.5" cy="419.5" r="1.65" fill="#ee8ca4" fill-opacity="0.4"/><circle cx="404.5" cy="425.0" r="1.65" fill="#ee8ca4" fill-opacity="0.4"/><circle cx="317.5" cy="423.8" r="1.65" fill="#ee8ca4" fill-opacity="0.4"/><circle cx="325.0" cy="420.0" r="1.65" fill="#ee8ca4" fill-opacity="0.4"/><circle cx="336.2" cy="422.5" r="1.65" fill="#ee8ca4" fill-opacity="0.4"/><circle cx="368.8" cy="422.5" r="1.65" fill="#ee8ca4" fill-opacity="0.4"/><circle cx="382.5" cy="420.0" r="1.65" fill="#ee8ca4" fill-opacity="0.4"/><circle cx="419.5" cy="422.5" r="1.65" fill="#ee8ca4" fill-opacity="0.4"/><circle cx="429.5" cy="419.5" r="1.65" fill="#ee8ca4" fill-opacity="0.4"/><circle cx="444.5" cy="426.2" r="1.65" fill="#ee8ca4" fill-opacity="0.4"/><circle cx="425.5" cy="426.2" r="1.65" fill="#ee8ca4" fill-opacity="0.4"/><circle cx="438.0" cy="426.2" r="1.65" fill="#ee8ca4" fill-opacity="0.4"/><circle cx="443.8" cy="417.5" r="1.65" fill="#ee8ca4" fill-opacity="0.4"/><circle cx="457.5" cy="417.5" r="1.65" fill="#ee8ca4" fill-opacity="0.4"/><circle cx="473.8" cy="411.2" r="1.65" fill="#ee8ca4" fill-opacity="0.4"/><circle cx="478.2" cy="421.2" r="1.65" fill="#ee8ca4" fill-opacity="0.4"/><circle cx="486.2" cy="413.8" r="1.65" fill="#ee8ca4" fill-opacity="0.4"/><circle cx="507.5" cy="405.5" r="1.65" fill="#ee8ca4" fill-opacity="0.4"/><circle cx="506.2" cy="420.0" r="1.65" fill="#ee8ca4" fill-opacity="0.4"/><circle cx="513.2" cy="419.5" r="1.65" fill="#ee8ca4" fill-opacity="0.4"/><circle cx="519.2" cy="409.5" r="1.65" fill="#ee8ca4" fill-opacity="0.4"/><circle cx="520.0" cy="419.5" r="1.65" fill="#ee8ca4" fill-opacity="0.4"/><circle cx="528.0" cy="405.0" r="1.65" fill="#ee8ca4" fill-opacity="0.4"/><circle cx="533.8" cy="419.5" r="1.65" fill="#ee8ca4" fill-opacity="0.4"/><circle cx="537.5" cy="413.0" r="1.65" fill="#ee8ca4" fill-opacity="0.4"/><circle cx="538.2" cy="419.5" r="1.65" fill="#ee8ca4" fill-opacity="0.4"/><circle cx="540.0" cy="421.2" r="1.65" fill="#ee8ca4" fill-opacity="0.4"/><circle cx="545.8" cy="422.5" r="1.65" fill="#ee8ca4" fill-opacity="0.4"/><circle cx="550.0" cy="401.2" r="1.65" fill="#ee8ca4" fill-opacity="0.4"/><circle cx="550.8" cy="413.0" r="1.65" fill="#ee8ca4" fill-opacity="0.4"/><circle cx="555.5" cy="389.5" r="1.65" fill="#ee8ca4" fill-opacity="0.4"/><circle cx="591.2" cy="410.8" r="1.65" fill="#ee8ca4" fill-opacity="0.4"/><circle cx="592.5" cy="417.5" r="1.65" fill="#ee8ca4" fill-opacity="0.4"/><circle cx="596.8" cy="385.0" r="1.65" fill="#ee8ca4" fill-opacity="0.4"/><circle cx="607.5" cy="414.5" r="1.65" fill="#ee8ca4" fill-opacity="0.4"/><circle cx="608.2" cy="421.2" r="1.65" fill="#ee8ca4" fill-opacity="0.4"/><circle cx="617.0" cy="381.2" r="1.65" fill="#ee8ca4" fill-opacity="0.4"/><circle cx="621.2" cy="404.5" r="1.65" fill="#ee8ca4" fill-opacity="0.4"/><circle cx="78.8" cy="429.5" r="1.65" fill="#a4c45a" fill-opacity="0.4"/><circle cx="100.5" cy="440.5" r="1.65" fill="#a4c45a" fill-opacity="0.4"/><circle cx="113.8" cy="431.2" r="1.65" fill="#a4c45a" fill-opacity="0.4"/><circle cx="121.2" cy="426.2" r="1.65" fill="#a4c45a" fill-opacity="0.4"/><circle cx="115.5" cy="444.5" r="1.65" fill="#a4c45a" fill-opacity="0.4"/><circle cx="119.5" cy="442.5" r="1.65" fill="#a4c45a" fill-opacity="0.4"/><circle cx="121.2" cy="446.2" r="1.65" fill="#a4c45a" fill-opacity="0.4"/><circle cx="142.5" cy="438.0" r="1.65" fill="#a4c45a" fill-opacity="0.4"/><circle cx="145.5" cy="443.0" r="1.65" fill="#a4c45a" fill-opacity="0.4"/><circle cx="146.8" cy="446.8" r="1.65" fill="#a4c45a" fill-opacity="0.4"/><circle cx="146.8" cy="432.5" r="1.65" fill="#a4c45a" fill-opacity="0.4"/><circle cx="150.0" cy="431.2" r="1.65" fill="#a4c45a" fill-opacity="0.4"/><circle cx="167.0" cy="450.0" r="1.65" fill="#a4c45a" fill-opacity="0.4"/><circle cx="178.8" cy="442.0" r="1.65" fill="#a4c45a" fill-opacity="0.4"/><circle cx="185.0" cy="446.2" r="1.65" fill="#a4c45a" fill-opacity="0.4"/><circle cx="187.5" cy="446.2" r="1.65" fill="#a4c45a" fill-opacity="0.4"/><circle cx="188.0" cy="439.2" r="1.65" fill="#a4c45a" fill-opacity="0.4"/><circle cx="188.0" cy="428.0" r="1.65" fill="#a4c45a" fill-opacity="0.4"/><circle cx="190.0" cy="426.8" r="1.65" fill="#a4c45a" fill-opacity="0.4"/><circle cx="202.5" cy="433.8" r="1.65" fill="#a4c45a" fill-opacity="0.4"/><circle cx="205.0" cy="435.8" r="1.65" fill="#a4c45a" fill-opacity="0.4"/><circle cx="213.2" cy="442.0" r="1.65" fill="#a4c45a" fill-opacity="0.4"/><circle cx="222.5" cy="435.0" r="1.65" fill="#a4c45a" fill-opacity="0.4"/><circle cx="225.8" cy="438.0" r="1.65" fill="#a4c45a" fill-opacity="0.4"/><circle cx="225.8" cy="440.5" r="1.65" fill="#a4c45a" fill-opacity="0.4"/><circle cx="236.2" cy="428.0" r="1.65" fill="#a4c45a" fill-opacity="0.4"/><circle cx="237.5" cy="438.0" r="1.65" fill="#a4c45a" fill-opacity="0.4"/><circle cx="258.0" cy="433.8" r="1.65" fill="#a4c45a" fill-opacity="0.4"/><circle cx="267.5" cy="436.2" r="1.65" fill="#a4c45a" fill-opacity="0.4"/><circle cx="273.8" cy="426.2" r="1.65" fill="#a4c45a" fill-opacity="0.4"/><circle cx="275.8" cy="427.5" r="1.65" fill="#a4c45a" fill-opacity="0.4"/><circle cx="284.2" cy="425.8" r="1.65" fill="#a4c45a" fill-opacity="0.4"/><circle cx="317.5" cy="428.8" r="1.65" fill="#a4c45a" fill-opacity="0.4"/><circle cx="320.8" cy="425.0" r="1.65" fill="#a4c45a" fill-opacity="0.4"/><circle cx="325.8" cy="426.2" r="1.65" fill="#a4c45a" fill-opacity="0.4"/><circle cx="336.2" cy="425.8" r="1.65" fill="#a4c45a" fill-opacity="0.4"/><circle cx="336.2" cy="428.8" r="1.65" fill="#a4c45a" fill-opacity="0.4"/><circle cx="352.0" cy="425.8" r="1.65" fill="#a4c45a" fill-opacity="0.4"/><circle cx="352.0" cy="428.8" r="1.65" fill="#a4c45a" fill-opacity="0.4"/><circle cx="382.5" cy="425.8" r="1.65" fill="#a4c45a" fill-opacity="0.4"/><circle cx="388.8" cy="426.2" r="1.65" fill="#a4c45a" fill-opacity="0.4"/><circle cx="396.2" cy="427.5" r="1.65" fill="#a4c45a" fill-opacity="0.4"/><circle cx="404.5" cy="425.0" r="1.65" fill="#a4c45a" fill-opacity="0.4"/><circle cx="419.5" cy="426.2" r="1.65" fill="#a4c45a" fill-opacity="0.4"/><circle cx="429.5" cy="430.0" r="1.65" fill="#a4c45a" fill-opacity="0.4"/><circle cx="444.5" cy="428.0" r="1.65" fill="#a4c45a" fill-opacity="0.4"/><circle cx="425.5" cy="425.8" r="1.65" fill="#a4c45a" fill-opacity="0.4"/><circle cx="438.0" cy="425.8" r="1.65" fill="#a4c45a" fill-opacity="0.4"/><circle cx="443.8" cy="425.0" r="1.65" fill="#a4c45a" fill-opacity="0.4"/><circle cx="445.5" cy="426.2" r="1.65" fill="#a4c45a" fill-opacity="0.4"/><circle cx="449.2" cy="428.0" r="1.65" fill="#a4c45a" fill-opacity="0.4"/><circle cx="456.2" cy="428.8" r="1.65" fill="#a4c45a" fill-opacity="0.4"/><circle cx="473.8" cy="417.5" r="1.65" fill="#a4c45a" fill-opacity="0.4"/><circle cx="478.2" cy="426.2" r="1.65" fill="#a4c45a" fill-opacity="0.4"/><circle cx="486.2" cy="427.5" r="1.65" fill="#a4c45a" fill-opacity="0.4"/><circle cx="503.2" cy="428.8" r="1.65" fill="#a4c45a" fill-opacity="0.4"/><circle cx="506.2" cy="429.5" r="1.65" fill="#a4c45a" fill-opacity="0.4"/><circle cx="514.5" cy="425.0" r="1.65" fill="#a4c45a" fill-opacity="0.4"/><circle cx="520.0" cy="427.5" r="1.65" fill="#a4c45a" fill-opacity="0.4"/><circle cx="533.8" cy="427.5" r="1.65" fill="#a4c45a" fill-opacity="0.4"/><circle cx="537.5" cy="425.0" r="1.65" fill="#a4c45a" fill-opacity="0.4"/><circle cx="540.0" cy="425.0" r="1.65" fill="#a4c45a" fill-opacity="0.4"/><circle cx="545.8" cy="421.2" r="1.65" fill="#a4c45a" fill-opacity="0.4"/><circle cx="550.0" cy="419.5" r="1.65" fill="#a4c45a" fill-opacity="0.4"/><circle cx="550.8" cy="423.8" r="1.65" fill="#a4c45a" fill-opacity="0.4"/><circle cx="555.5" cy="426.2" r="1.65" fill="#a4c45a" fill-opacity="0.4"/><circle cx="578.8" cy="429.5" r="1.65" fill="#a4c45a" fill-opacity="0.4"/><circle cx="591.2" cy="421.2" r="1.65" fill="#a4c45a" fill-opacity="0.4"/><circle cx="592.5" cy="418.8" r="1.65" fill="#a4c45a" fill-opacity="0.4"/><circle cx="607.5" cy="422.5" r="1.65" fill="#a4c45a" fill-opacity="0.4"/><circle cx="608.2" cy="427.5" r="1.65" fill="#a4c45a" fill-opacity="0.4"/><circle cx="617.0" cy="417.5" r="1.65" fill="#a4c45a" fill-opacity="0.4"/><circle cx="275.8" cy="429.2" r="1.65" fill="#f4602e"/><circle cx="284.2" cy="442.0" r="1.65" fill="#f4602e"/><circle cx="317.5" cy="438.2" r="1.65" fill="#f4602e"/><circle cx="320.8" cy="435.0" r="1.65" fill="#f4602e"/><circle cx="325.8" cy="435.0" r="1.65" fill="#f4602e"/><circle cx="323.2" cy="442.0" r="1.65" fill="#f4602e"/><circle cx="325.0" cy="445.0" r="1.65" fill="#f4602e"/><circle cx="336.2" cy="436.2" r="1.65" fill="#f4602e"/><circle cx="344.2" cy="446.2" r="1.65" fill="#f4602e"/><circle cx="352.0" cy="439.2" r="1.65" fill="#f4602e"/><circle cx="356.8" cy="446.2" r="1.65" fill="#f4602e"/><circle cx="368.8" cy="446.2" r="1.65" fill="#f4602e"/><circle cx="375.5" cy="442.0" r="1.65" fill="#f4602e"/><circle cx="382.5" cy="434.5" r="1.65" fill="#f4602e"/><circle cx="388.8" cy="430.5" r="1.65" fill="#f4602e"/><circle cx="392.5" cy="442.0" r="1.65" fill="#f4602e"/><circle cx="396.2" cy="441.2" r="1.65" fill="#f4602e"/><circle cx="400.0" cy="446.2" r="1.65" fill="#f4602e"/><circle cx="404.5" cy="430.5" r="1.65" fill="#f4602e"/><circle cx="419.5" cy="436.2" r="1.65" fill="#f4602e"/><circle cx="429.5" cy="436.2" r="1.65" fill="#f4602e"/><circle cx="444.5" cy="436.2" r="1.65" fill="#f4602e"/><circle cx="438.0" cy="431.2" r="1.65" fill="#f4602e"/><circle cx="445.5" cy="435.8" r="1.65" fill="#f4602e"/><circle cx="449.2" cy="428.8" r="1.65" fill="#f4602e"/><circle cx="451.2" cy="436.8" r="1.65" fill="#f4602e"/><circle cx="453.8" cy="438.2" r="1.65" fill="#f4602e"/><circle cx="456.2" cy="432.5" r="1.65" fill="#f4602e"/><circle cx="453.8" cy="445.5" r="1.65" fill="#f4602e"/><circle cx="473.8" cy="445.0" r="1.65" fill="#f4602e"/><circle cx="486.2" cy="428.0" r="1.65" fill="#f4602e"/><circle cx="487.5" cy="431.2" r="1.65" fill="#f4602e"/><circle cx="498.2" cy="442.0" r="1.65" fill="#f4602e"/><circle cx="503.2" cy="432.5" r="1.65" fill="#f4602e"/><circle cx="519.2" cy="432.5" r="1.65" fill="#f4602e"/><circle cx="520.0" cy="430.5" r="1.65" fill="#f4602e"/><circle cx="537.5" cy="433.8" r="1.65" fill="#f4602e"/><circle cx="538.2" cy="436.2" r="1.65" fill="#f4602e"/><circle cx="545.8" cy="433.8" r="1.65" fill="#f4602e"/><circle cx="550.8" cy="435.0" r="1.65" fill="#f4602e"/><circle cx="578.8" cy="429.5" r="1.65" fill="#f4602e"/><circle cx="591.2" cy="433.8" r="1.65" fill="#f4602e"/><circle cx="596.8" cy="433.8" r="1.65" fill="#f4602e"/><circle cx="607.5" cy="421.2" r="1.65" fill="#f4602e"/><circle cx="608.2" cy="425.0" r="1.65" fill="#f4602e"/><circle cx="617.0" cy="428.8" r="1.65" fill="#f4602e"/><circle cx="388.8" cy="430.0" r="1.65" fill="#6e84c4"/><circle cx="396.2" cy="430.0" r="1.65" fill="#6e84c4"/><circle cx="404.5" cy="429.2" r="1.65" fill="#6e84c4"/><circle cx="419.5" cy="427.5" r="1.65" fill="#6e84c4"/><circle cx="419.5" cy="428.8" r="1.65" fill="#6e84c4"/><circle cx="425.5" cy="433.8" r="1.65" fill="#6e84c4"/><circle cx="444.5" cy="435.0" r="1.65" fill="#6e84c4"/><circle cx="438.0" cy="435.0" r="1.65" fill="#6e84c4"/><circle cx="443.8" cy="436.2" r="1.65" fill="#6e84c4"/><circle cx="446.8" cy="438.0" r="1.65" fill="#6e84c4"/><circle cx="451.2" cy="437.5" r="1.65" fill="#6e84c4"/><circle cx="456.2" cy="436.2" r="1.65" fill="#6e84c4"/><circle cx="473.8" cy="435.8" r="1.65" fill="#6e84c4"/><circle cx="478.2" cy="438.0" r="1.65" fill="#6e84c4"/><circle cx="486.2" cy="436.2" r="1.65" fill="#6e84c4"/><circle cx="491.2" cy="438.0" r="1.65" fill="#6e84c4"/><circle cx="498.2" cy="446.2" r="1.65" fill="#6e84c4"/><circle cx="507.5" cy="438.8" r="1.65" fill="#6e84c4"/><circle cx="519.2" cy="436.8" r="1.65" fill="#6e84c4"/><circle cx="533.8" cy="436.2" r="1.65" fill="#6e84c4"/><circle cx="538.2" cy="435.0" r="1.65" fill="#6e84c4"/><circle cx="550.8" cy="436.2" r="1.65" fill="#6e84c4"/><circle cx="554.2" cy="437.5" r="1.65" fill="#6e84c4"/><circle cx="591.2" cy="433.8" r="1.65" fill="#6e84c4"/><circle cx="592.5" cy="435.0" r="1.65" fill="#6e84c4"/><circle cx="608.2" cy="433.8" r="1.65" fill="#6e84c4"/><circle cx="617.0" cy="436.2" r="1.65" fill="#6e84c4"/><circle cx="507.5" cy="446.2" r="1.65" fill="#2a9030"/><circle cx="513.2" cy="446.2" r="1.65" fill="#2a9030"/><circle cx="519.2" cy="445.0" r="1.65" fill="#2a9030"/><circle cx="528.0" cy="450.0" r="1.65" fill="#2a9030"/><circle cx="537.5" cy="446.2" r="1.65" fill="#2a9030"/><circle cx="550.0" cy="446.2" r="1.65" fill="#2a9030"/><circle cx="591.2" cy="446.2" r="1.65" fill="#2a9030"/><circle cx="608.2" cy="441.2" r="1.65" fill="#2a9030"/><circle cx="621.2" cy="441.2" r="1.65" fill="#2a9030"/><circle cx="507.5" cy="454.2" r="1.65" fill="#2a9030"/><circle cx="519.2" cy="454.2" r="1.65" fill="#2a9030"/><circle cx="537.5" cy="454.2" r="1.65" fill="#2a9030"/><circle cx="550.8" cy="454.2" r="1.65" fill="#2a9030"/><circle cx="554.2" cy="454.2" r="1.65" fill="#2a9030"/><circle cx="443.0" cy="442.0" r="1.65" fill="#30303e"/><circle cx="439.2" cy="442.0" r="1.65" fill="#30303e"/><circle cx="443.8" cy="442.0" r="1.65" fill="#30303e"/><circle cx="457.0" cy="450.0" r="1.65" fill="#30303e"/><circle cx="498.2" cy="446.2" r="1.65" fill="#30303e"/><circle cx="520.0" cy="450.0" r="1.65" fill="#30303e"/><circle cx="538.2" cy="450.0" r="1.65" fill="#30303e"/><circle cx="554.2" cy="450.0" r="1.65" fill="#30303e"/><circle cx="595.0" cy="450.0" r="1.65" fill="#30303e"/><circle cx="538.2" cy="454.2" r="1.65" fill="#30303e"/><circle cx="610.8" cy="438.8" r="1.65" fill="#30303e"/><circle cx="617.0" cy="438.8" r="1.65" fill="#30303e"/>
</g>
<g fill-opacity="0.55">
<path d="M71.5 95.4L75.8 99.7L71.5 104.0L67.2 99.7Z" fill="#2e9a33"/>
<path d="M71.5 180.2L75.8 184.5L71.5 188.8L67.2 184.5Z" fill="#1f5fc4"/>
<path d="M71.5 393.2L75.8 397.5L71.5 401.8L67.2 397.5Z" fill="#e21a14"/>
<path d="M71.5 408.5L75.8 412.8L71.5 417.1L67.2 412.8Z" fill="#12128e"/>
<path d="M71.5 417.0L75.8 421.3L71.5 425.6L67.2 421.3Z" fill="#ee8ca0" fill-opacity="0.38"/>
<path d="M71.5 433.9L75.8 438.2L71.5 442.5L67.2 438.2Z" fill="#9acd32" fill-opacity="0.38"/>
<path d="M778.2 299.9L782.5 304.2L778.2 308.5L773.9 304.2Z" fill="#1f5fc4"/>
<path d="M778.2 317.2L782.5 321.5L778.2 325.8L773.9 321.5Z" fill="#ee8ca0" fill-opacity="0.38"/>
<path d="M778.2 346.2L782.5 350.5L778.2 354.8L773.9 350.5Z" fill="#2e9a33"/>
<path d="M778.2 367.2L782.5 371.5L778.2 375.8L773.9 371.5Z" fill="#3a9fe6"/>
<path d="M778.2 384.2L782.5 388.5L778.2 392.8L773.9 388.5Z" fill="#e21a14"/>
<path d="M778.2 396.7L782.5 401.0L778.2 405.3L773.9 401.0Z" fill="#0a0a2e"/>
<path d="M778.2 404.5L782.5 408.8L778.2 413.1L773.9 408.8Z" fill="#ff4d12"/>
<path d="M778.2 431.0L782.5 435.3L778.2 439.6L773.9 435.3Z" fill="#12128e"/>
<path d="M778.2 430.9L782.5 435.2L778.2 439.5L773.9 435.2Z" fill="#9acd32" fill-opacity="0.38"/>
<path d="M778.2 433.7L782.5 438.0L778.2 442.3L773.9 438.0Z" fill="#6a85d0"/>
</g>
<g fill="none" stroke-width="1.65" stroke-linecap="butt" stroke-linejoin="round">
<path d="M71.75 61.25C76.46 62.71 90.29 66.96 100.00 70.00C109.71 73.04 120.00 76.42 130.00 79.50C140.00 82.58 150.83 85.71 160.00 88.50C169.17 91.29 177.92 94.12 185.00 96.25C192.08 98.38 197.50 99.62 202.50 101.25C207.50 102.88 210.42 104.12 215.00 106.00C219.58 107.88 223.33 109.92 230.00 112.50C236.67 115.08 247.50 119.17 255.00 121.50C262.50 123.83 268.17 124.79 275.00 126.50C281.83 128.21 287.67 129.58 296.00 131.75C304.33 133.92 315.17 136.88 325.00 139.50C334.83 142.12 345.83 144.50 355.00 147.50C364.17 150.50 371.67 154.58 380.00 157.50C388.33 160.42 394.58 161.96 405.00 165.00C415.42 168.04 432.08 172.75 442.50 175.75C452.92 178.75 461.25 180.75 467.50 183.00C473.75 185.25 474.58 186.12 480.00 189.25C485.42 192.38 493.75 197.58 500.00 201.75C506.25 205.92 511.25 210.17 517.50 214.25C523.75 218.33 530.00 222.50 537.50 226.25C545.00 230.00 555.42 234.17 562.50 236.75C569.58 239.33 575.42 240.25 580.00 241.75C584.58 243.25 586.67 243.75 590.00 245.75C593.33 247.75 596.67 250.75 600.00 253.75C603.33 256.75 606.67 260.21 610.00 263.75C613.33 267.29 616.25 270.62 620.00 275.00C623.75 279.38 627.92 285.33 632.50 290.00C637.08 294.67 641.25 298.00 647.50 303.00C653.75 308.00 664.17 314.46 670.00 320.00C675.83 325.54 678.33 331.04 682.50 336.25C686.67 341.46 691.25 347.71 695.00 351.25C698.75 354.79 701.67 356.25 705.00 357.50C708.33 358.75 711.88 359.17 715.00 358.75C718.12 358.33 720.42 357.92 723.75 355.00C727.08 352.08 731.46 345.83 735.00 341.25C738.54 336.67 742.29 330.75 745.00 327.50C747.71 324.25 748.75 322.71 751.25 321.75C753.75 320.79 757.29 320.58 760.00 321.75C762.71 322.92 765.00 325.71 767.50 328.75C770.00 331.79 773.25 337.29 775.00 340.00C776.75 342.71 777.50 344.17 778.00 345.00" stroke="#2e9a33"/>
<path d="M71.75 223.25C75.21 221.46 85.71 215.33 92.50 212.50C99.29 209.67 105.42 207.71 112.50 206.25C119.58 204.79 128.33 204.12 135.00 203.75C141.67 203.38 146.67 203.46 152.50 204.00C158.33 204.54 163.96 205.79 170.00 207.00C176.04 208.21 182.92 209.00 188.75 211.25C194.58 213.50 198.96 218.08 205.00 220.50C211.04 222.92 218.75 224.38 225.00 225.75C231.25 227.12 237.50 228.17 242.50 228.75C247.50 229.33 248.75 229.04 255.00 229.25C261.25 229.46 271.67 230.08 280.00 230.00C288.33 229.92 297.50 229.38 305.00 228.75C312.50 228.12 317.50 227.50 325.00 226.25C332.50 225.00 342.08 222.79 350.00 221.25C357.92 219.71 365.42 218.12 372.50 217.00C379.58 215.88 385.42 214.92 392.50 214.50C399.58 214.08 408.75 214.29 415.00 214.50C421.25 214.71 424.58 215.04 430.00 215.75C435.42 216.46 441.67 218.08 447.50 218.75C453.33 219.42 459.58 219.62 465.00 219.75C470.42 219.88 473.33 219.96 480.00 219.50C486.67 219.04 498.54 217.88 505.00 217.00C511.46 216.12 512.50 215.75 518.75 214.25C525.00 212.75 534.38 209.96 542.50 208.00C550.62 206.04 559.17 203.79 567.50 202.50C575.83 201.21 585.00 200.46 592.50 200.25C600.00 200.04 607.08 200.46 612.50 201.25C617.92 202.04 621.67 203.88 625.00 205.00C628.33 206.12 628.33 206.42 632.50 208.00C636.67 209.58 643.75 212.58 650.00 214.50C656.25 216.42 663.75 218.17 670.00 219.50C676.25 220.83 682.50 221.38 687.50 222.50C692.50 223.62 696.25 224.67 700.00 226.25C703.75 227.83 706.67 229.42 710.00 232.00C713.33 234.58 716.67 238.42 720.00 241.75C723.33 245.08 726.25 248.67 730.00 252.00C733.75 255.33 738.75 259.17 742.50 261.75C746.25 264.33 749.38 265.92 752.50 267.50C755.62 269.08 758.75 269.17 761.25 271.25C763.75 273.33 765.62 277.08 767.50 280.00C769.38 282.92 770.75 285.42 772.50 288.75C774.25 292.08 777.08 298.12 778.00 300.00" stroke="#1f5fc4"/>
<path d="M71.75 398.25C75.21 398.33 84.88 398.96 92.50 398.75C100.12 398.54 109.17 397.83 117.50 397.00C125.83 396.17 134.17 394.92 142.50 393.75C150.83 392.58 159.17 391.38 167.50 390.00C175.83 388.62 184.17 387.25 192.50 385.50C200.83 383.75 209.17 381.33 217.50 379.50C225.83 377.67 236.25 375.67 242.50 374.50C248.75 373.33 249.58 373.25 255.00 372.50C260.42 371.75 267.50 370.83 275.00 370.00C282.50 369.17 291.67 368.12 300.00 367.50C308.33 366.88 314.58 366.58 325.00 366.25C335.42 365.92 350.83 365.71 362.50 365.50C374.17 365.29 384.58 364.79 395.00 365.00C405.42 365.21 411.67 366.62 425.00 366.75C438.33 366.88 459.17 366.04 475.00 365.75C490.83 365.46 506.67 364.79 520.00 365.00C533.33 365.21 543.75 366.79 555.00 367.00C566.25 367.21 577.92 366.67 587.50 366.25C597.08 365.83 606.25 365.12 612.50 364.50C618.75 363.88 618.75 363.46 625.00 362.50C631.25 361.54 641.67 359.67 650.00 358.75C658.33 357.83 666.67 357.00 675.00 357.00C683.33 357.00 692.50 357.92 700.00 358.75C707.50 359.58 713.33 360.54 720.00 362.00C726.67 363.46 734.17 365.54 740.00 367.50C745.83 369.46 750.42 371.46 755.00 373.75C759.58 376.04 763.67 378.96 767.50 381.25C771.33 383.54 776.25 386.46 778.00 387.50" stroke="#e21a14"/>
<path d="M71.75 415.75C77.29 415.12 93.21 413.29 105.00 412.00C116.79 410.71 130.00 409.38 142.50 408.00C155.00 406.62 169.58 405.08 180.00 403.75C190.42 402.42 199.58 400.54 205.00 400.00C210.42 399.46 207.08 400.08 212.50 400.50C217.92 400.92 227.08 401.75 237.50 402.50C247.92 403.25 262.50 404.38 275.00 405.00C287.50 405.62 302.08 405.75 312.50 406.25C322.92 406.75 329.17 407.25 337.50 408.00C345.83 408.75 354.58 409.88 362.50 410.75C370.42 411.62 378.75 412.96 385.00 413.25C391.25 413.54 395.42 413.25 400.00 412.50C404.58 411.75 408.33 410.08 412.50 408.75C416.67 407.42 418.75 406.46 425.00 404.50C431.25 402.54 441.67 399.00 450.00 397.00C458.33 395.00 467.50 393.38 475.00 392.50C482.50 391.62 487.50 391.54 495.00 391.75C502.50 391.96 512.50 393.00 520.00 393.75C527.50 394.50 534.17 395.62 540.00 396.25C545.83 396.88 549.17 397.71 555.00 397.50C560.83 397.29 568.33 395.83 575.00 395.00C581.67 394.17 587.50 393.12 595.00 392.50C602.50 391.88 612.50 391.33 620.00 391.25C627.50 391.17 633.75 391.29 640.00 392.00C646.25 392.71 651.67 394.08 657.50 395.50C663.33 396.92 669.17 398.71 675.00 400.50C680.83 402.29 686.67 404.04 692.50 406.25C698.33 408.46 704.58 411.38 710.00 413.75C715.42 416.12 720.83 418.42 725.00 420.50C729.17 422.58 732.08 424.88 735.00 426.25C737.92 427.62 741.25 428.33 742.50 428.75" stroke="#12128e"/>
<path d="M71.75 421.25C81.46 421.25 111.96 421.54 130.00 421.25C148.04 420.96 165.42 420.04 180.00 419.50C194.58 418.96 205.00 418.08 217.50 418.00C230.00 417.92 245.42 418.67 255.00 419.00C264.58 419.33 265.42 419.50 275.00 420.00C284.58 420.50 300.00 421.50 312.50 422.00C325.00 422.50 337.50 422.92 350.00 423.00C362.50 423.08 375.00 422.58 387.50 422.50C400.00 422.42 416.67 422.50 425.00 422.50C433.33 422.50 429.17 422.79 437.50 422.50C445.83 422.21 464.58 421.46 475.00 420.75C485.42 420.04 491.67 419.50 500.00 418.25C508.33 417.00 516.67 414.92 525.00 413.25C533.33 411.58 541.67 409.71 550.00 408.25C558.33 406.79 566.67 405.96 575.00 404.50C583.33 403.04 591.67 401.67 600.00 399.50C608.33 397.33 616.67 394.33 625.00 391.50C633.33 388.67 641.67 385.46 650.00 382.50C658.33 379.54 667.50 376.33 675.00 373.75C682.50 371.17 689.17 368.54 695.00 367.00C700.83 365.46 705.00 364.62 710.00 364.50C715.00 364.38 720.00 365.12 725.00 366.25C730.00 367.38 735.83 369.79 740.00 371.25C744.17 372.71 747.08 374.58 750.00 375.00C752.92 375.42 755.00 376.04 757.50 373.75C760.00 371.46 762.50 367.29 765.00 361.25C767.50 355.21 770.33 343.96 772.50 337.50C774.67 331.04 777.08 325.00 778.00 322.50" stroke="#ee8ca0"/>
<path d="M71.75 434.50C77.29 435.00 93.21 436.71 105.00 437.50C116.79 438.29 130.00 438.96 142.50 439.25C155.00 439.54 169.58 439.54 180.00 439.25C190.42 438.96 196.67 438.42 205.00 437.50C213.33 436.58 222.50 434.83 230.00 433.75C237.50 432.67 242.50 431.83 250.00 431.00C257.50 430.17 264.58 429.21 275.00 428.75C285.42 428.29 300.00 428.12 312.50 428.25C325.00 428.38 337.50 429.08 350.00 429.50C362.50 429.92 375.00 430.46 387.50 430.75C400.00 431.04 414.58 431.38 425.00 431.25C435.42 431.12 437.50 430.42 450.00 430.00C462.50 429.58 483.33 429.04 500.00 428.75C516.67 428.46 533.33 428.51 550.00 428.25C566.67 427.99 585.42 427.74 600.00 427.20C614.58 426.66 625.00 425.57 637.50 425.00C650.00 424.43 663.75 423.75 675.00 423.75C686.25 423.75 696.67 424.17 705.00 425.00C713.33 425.83 717.50 428.00 725.00 428.75C732.50 429.50 743.33 429.29 750.00 429.50C756.67 429.71 760.33 429.17 765.00 430.00C769.67 430.83 775.83 433.75 778.00 434.50" stroke="#9acd32"/>
<path d="M438.75 453.75C440.62 453.42 441.88 452.38 450.00 451.75C458.12 451.12 475.00 450.50 487.50 450.00C500.00 449.50 510.42 449.08 525.00 448.75C539.58 448.42 562.50 448.21 575.00 448.00C587.50 447.79 591.67 447.71 600.00 447.50C608.33 447.29 616.67 447.08 625.00 446.75C633.33 446.42 641.67 445.92 650.00 445.50C658.33 445.08 667.92 444.75 675.00 444.25C682.08 443.75 687.92 443.62 692.50 442.50C697.08 441.38 699.17 439.25 702.50 437.50C705.83 435.75 708.75 433.33 712.50 432.00C716.25 430.67 720.42 429.96 725.00 429.50C729.58 429.04 736.25 429.58 740.00 429.25C743.75 428.92 745.42 428.96 747.50 427.50C749.58 426.04 750.83 422.38 752.50 420.50C754.17 418.62 755.42 417.17 757.50 416.25C759.58 415.33 762.50 415.62 765.00 415.00C767.50 414.38 770.83 413.96 772.50 412.50C774.17 411.04 774.08 408.12 775.00 406.25C775.92 404.38 777.50 402.08 778.00 401.25" stroke="#0a0a2e"/>
<path d="M276.25 433.75C280.21 434.25 291.88 435.83 300.00 436.75C308.12 437.67 316.67 438.58 325.00 439.25C333.33 439.92 341.67 440.54 350.00 440.75C358.33 440.96 366.67 440.92 375.00 440.50C383.33 440.08 391.67 438.92 400.00 438.25C408.33 437.58 414.58 437.04 425.00 436.50C435.42 435.96 450.00 435.46 462.50 435.00C475.00 434.54 489.58 434.17 500.00 433.75C510.42 433.33 516.67 432.58 525.00 432.50C533.33 432.42 541.67 432.92 550.00 433.25C558.33 433.58 568.33 434.54 575.00 434.50C581.67 434.46 585.83 433.83 590.00 433.00C594.17 432.17 596.25 431.33 600.00 429.50C603.75 427.67 608.33 424.54 612.50 422.00C616.67 419.46 618.75 417.92 625.00 414.25C631.25 410.58 643.33 403.83 650.00 400.00C656.67 396.17 660.00 395.21 665.00 391.25C670.00 387.29 675.42 381.46 680.00 376.25C684.58 371.04 688.75 365.21 692.50 360.00C696.25 354.79 699.58 348.75 702.50 345.00C705.42 341.25 707.50 339.29 710.00 337.50C712.50 335.71 715.00 334.46 717.50 334.25C720.00 334.04 722.71 334.67 725.00 336.25C727.29 337.83 729.17 340.21 731.25 343.75C733.33 347.29 735.42 352.71 737.50 357.50C739.58 362.29 741.25 368.75 743.75 372.50C746.25 376.25 749.79 377.71 752.50 380.00C755.21 382.29 757.08 383.33 760.00 386.25C762.92 389.17 767.00 394.04 770.00 397.50C773.00 400.96 776.67 405.42 778.00 407.00" stroke="#ff4d12"/>
<path d="M381.25 432.50C384.38 432.58 392.71 432.67 400.00 433.00C407.29 433.33 416.67 434.04 425.00 434.50C433.33 434.96 441.67 435.38 450.00 435.75C458.33 436.12 466.67 436.67 475.00 436.75C483.33 436.83 491.67 436.46 500.00 436.25C508.33 436.04 516.67 435.58 525.00 435.50C533.33 435.42 541.67 435.42 550.00 435.75C558.33 436.08 567.50 437.08 575.00 437.50C582.50 437.92 590.83 438.25 595.00 438.25C599.17 438.25 595.00 437.96 600.00 437.50C605.00 437.04 616.67 436.04 625.00 435.50C633.33 434.96 641.67 434.33 650.00 434.25C658.33 434.17 666.67 434.79 675.00 435.00C683.33 435.21 692.50 435.83 700.00 435.50C707.50 435.17 714.17 433.29 720.00 433.00C725.83 432.71 730.00 433.21 735.00 433.75C740.00 434.29 745.00 436.04 750.00 436.25C755.00 436.46 760.33 435.00 765.00 435.00C769.67 435.00 775.83 436.04 778.00 436.25" stroke="#6a85d0"/>
<path d="M503.75 440.75C511.46 440.83 533.96 441.08 550.00 441.25C566.04 441.42 583.33 441.54 600.00 441.75C616.67 441.96 633.33 442.17 650.00 442.50C666.67 442.83 685.42 443.25 700.00 443.75C714.58 444.25 726.67 445.00 737.50 445.50C748.33 446.00 760.42 446.54 765.00 446.75" stroke="#0a9a12"/>
<path d="M728.75 420.50C729.38 418.75 731.04 413.83 732.50 410.00C733.96 406.17 735.83 401.04 737.50 397.50C739.17 393.96 740.42 391.46 742.50 388.75C744.58 386.04 747.08 383.12 750.00 381.25C752.92 379.38 756.67 378.54 760.00 377.50C763.33 376.46 767.00 375.62 770.00 375.00C773.00 374.38 776.67 373.96 778.00 373.75" stroke="#3a9fe6"/>
</g>
<rect x="825.4" y="150.7" width="15.80" height="189.75" fill="#f2f2f2"/>
<line x1="826.6" x2="840.0" y1="159.32" y2="159.32" stroke="#2e9a33" stroke-width="2.3"/>
<text class="lg" x="845.6" y="163.22">PASOK</text>
<line x1="826.6" x2="840.0" y1="176.57" y2="176.57" stroke="#1f5fc4" stroke-width="2.3"/>
<text class="lg" x="845.6" y="180.47">ND</text>
<line x1="826.6" x2="840.0" y1="193.82" y2="193.82" stroke="#e21a14" stroke-width="2.3"/>
<text class="lg" x="845.6" y="197.72">KKE</text>
<line x1="826.6" x2="840.0" y1="211.07" y2="211.07" stroke="#12128e" stroke-width="2.3"/>
<text class="lg" x="845.6" y="214.97">LAOS</text>
<line x1="826.6" x2="840.0" y1="228.32" y2="228.32" stroke="#ee8ca0" stroke-width="2.3"/>
<text class="lg" x="845.6" y="232.22">SYRIZA</text>
<line x1="826.6" x2="840.0" y1="245.57" y2="245.57" stroke="#9acd32" stroke-width="2.3"/>
<text class="lg" x="845.6" y="249.47">OP</text>
<line x1="826.6" x2="840.0" y1="262.82" y2="262.82" stroke="#0a0a2e" stroke-width="2.3"/>
<text class="lg" x="845.6" y="266.72">XA</text>
<line x1="826.6" x2="840.0" y1="280.07" y2="280.07" stroke="#ff4d12" stroke-width="2.3"/>
<text class="lg" x="845.6" y="283.97">DIMAR</text>
<line x1="826.6" x2="840.0" y1="297.32" y2="297.32" stroke="#6a85d0" stroke-width="2.3"/>
<text class="lg" x="845.6" y="301.22">DISY</text>
<line x1="826.6" x2="840.0" y1="314.57" y2="314.57" stroke="#0a9a12" stroke-width="2.3"/>
<text class="lg" x="845.6" y="318.47">PARMAP</text>
<line x1="826.6" x2="840.0" y1="331.82" y2="331.82" stroke="#3a9fe6" stroke-width="2.3"/>
<text class="lg" x="845.6" y="335.72">ANEL</text>
</svg>
</body></html>
